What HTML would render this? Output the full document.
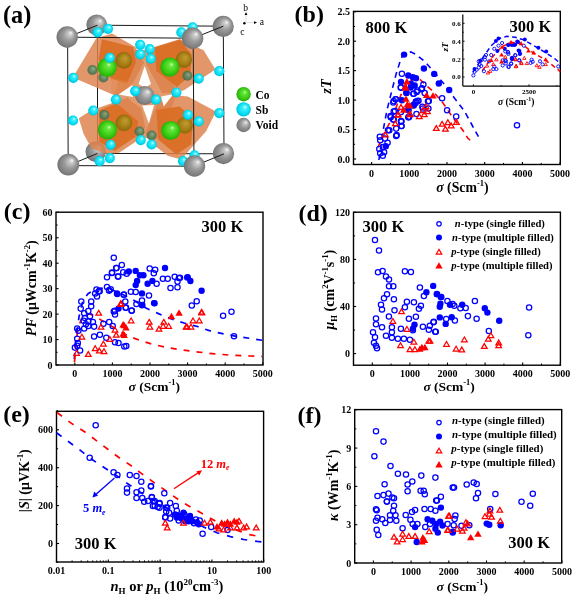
<!DOCTYPE html>
<html><head><meta charset="utf-8"><style>
html,body{margin:0;padding:0;background:#fff;}
svg{display:block;will-change:transform;font-family:"Liberation Serif",serif;}
</style></head><body>
<svg width="575" height="602" viewBox="0 0 575 602">

<defs>
<radialGradient id="gGray" cx="0.5" cy="0.5" r="0.55" fx="0.68" fy="0.3">
 <stop offset="0" stop-color="#ffffff"/><stop offset="0.14" stop-color="#cfcfcf"/>
 <stop offset="0.5" stop-color="#9a9a9a"/><stop offset="0.85" stop-color="#7c7c7c"/><stop offset="1" stop-color="#6a6a6a"/>
</radialGradient>
<radialGradient id="gCyan" cx="0.5" cy="0.5" r="0.55" fx="0.62" fy="0.32">
 <stop offset="0" stop-color="#e8ffff"/><stop offset="0.25" stop-color="#40f0ff"/>
 <stop offset="0.75" stop-color="#00d8ee"/><stop offset="1" stop-color="#00b0c8"/>
</radialGradient>
<radialGradient id="gGreen" cx="0.5" cy="0.5" r="0.55" fx="0.6" fy="0.35">
 <stop offset="0" stop-color="#d8ffc0"/><stop offset="0.18" stop-color="#68e840"/>
 <stop offset="0.65" stop-color="#38cc12"/><stop offset="1" stop-color="#24a008"/>
</radialGradient>
<radialGradient id="gOlive" cx="0.5" cy="0.5" r="0.55" fx="0.6" fy="0.35">
 <stop offset="0" stop-color="#c0a038"/><stop offset="0.6" stop-color="#a08010"/><stop offset="1" stop-color="#806008"/>
</radialGradient>
<radialGradient id="gDark" cx="0.5" cy="0.5" r="0.55" fx="0.6" fy="0.35">
 <stop offset="0" stop-color="#80b090"/><stop offset="0.6" stop-color="#4a7e5a"/><stop offset="1" stop-color="#386448"/>
</radialGradient>
</defs>

<rect width="575" height="602" fill="#fff"/>
<text x="3.0" y="23.3" font-size="24.3" text-anchor="start" font-weight="bold" font-style="normal" fill="#000" >(a)</text>
<line x1="97.50" y1="25.20" x2="223.30" y2="26.20" stroke="#1a1a1a" stroke-width="1.0" />
<line x1="97.50" y1="25.20" x2="97.50" y2="153.40" stroke="#1a1a1a" stroke-width="1.0" />
<line x1="97.50" y1="153.40" x2="224.00" y2="153.80" stroke="#1a1a1a" stroke-width="1.0" />
<line x1="223.30" y1="26.20" x2="224.00" y2="153.80" stroke="#1a1a1a" stroke-width="1.0" />
<circle cx="96.7" cy="24.8" r="10.4" fill="url(#gGray)"/>
<circle cx="223.2" cy="26.4" r="10.6" fill="url(#gGray)"/>
<circle cx="223.5" cy="153.6" r="10.6" fill="url(#gGray)"/>
<circle cx="95.7" cy="151.8" r="10.2" fill="url(#gGray)"/>
<circle cx="180" cy="46" r="5" fill="url(#gDark)"/>
<polygon points="128,50 160,50 177,93 160,138 130,138 114,96" fill="#e29c70" fill-opacity="1.0" stroke="none" stroke-width="0.6"/>
<polygon points="72.8,77.4 96.3,38.3 112,33.6 135.4,46.9 144,62.6 133.9,81.3 124.5,90.7 116.7,96.2 96.3,87.6" fill="#dc824c" fill-opacity="0.84" stroke="none" stroke-width="0.6"/>
<polygon points="102,39.3 133,47 136,62 127,83.5 111.3,78.8 98.5,59" fill="#da6e24" fill-opacity="0.93" stroke="none" stroke-width="0.6"/>
<polygon points="111.7,78.1 128.4,80.9 135.4,83.7 122.9,93.4 111.7,93.4" fill="#e5884a" fill-opacity="0.35" stroke="none" stroke-width="0.6"/>
<polygon points="148.9,48.7 179.9,39.1 190.3,44.3 203.6,50.2 215.4,69.4 202.1,78.3 184.3,90.1 175.5,93 162.2,93 145.9,63.5" fill="#dc824c" fill-opacity="0.84" stroke="none" stroke-width="0.6"/>
<polygon points="154.8,47.2 179.9,39.8 191.7,54.6 190.3,75.3 177,87.1 156.3,70.9" fill="#da6e24" fill-opacity="0.93" stroke="none" stroke-width="0.6"/>
<polygon points="78.8,118.2 91.3,110.3 111.6,103.3 127.3,97.8 141.4,108.8 145.3,127.6 138.3,140.1 119.5,152.6 107,154.2 91.3,147.9 83.5,133.8" fill="#dc824c" fill-opacity="0.84" stroke="none" stroke-width="0.6"/>
<polygon points="99.1,110.3 116.3,103.3 138.3,121.3 135.1,137 114.8,151 99.1,141.7" fill="#da6e24" fill-opacity="0.93" stroke="none" stroke-width="0.6"/>
<polygon points="145,133 156.5,104.9 173,95 187.9,96.6 216,111.5 206.1,131.3 191.2,147.9 181.3,159.4 168.1,156.1 153.2,144.5" fill="#dc824c" fill-opacity="0.84" stroke="none" stroke-width="0.6"/>
<polygon points="156.5,109.8 179.7,106.5 192.9,118.1 191.2,144.5 176.4,154.5 158.2,139.6" fill="#da6e24" fill-opacity="0.93" stroke="none" stroke-width="0.6"/>
<polygon points="144.7,66 138.6,84 144.7,88 151,84" fill="#ffffff" fill-opacity="1.0" stroke="none" stroke-width="0.6"/>
<polygon points="118.5,94.5 132.5,85 133,97" fill="#ffffff" fill-opacity="1.0" stroke="none" stroke-width="0.6"/>
<polygon points="161.2,96.5 173.5,94 163.7,106.5" fill="#ffffff" fill-opacity="1.0" stroke="none" stroke-width="0.6"/>
<polygon points="142.2,105.5 148.9,123.5 154,105" fill="#ffffff" fill-opacity="1.0" stroke="none" stroke-width="0.6"/>
<circle cx="123.7" cy="60.4" r="8.3" fill="url(#gOlive)" fill-opacity="0.9"/>
<circle cx="183.8" cy="59.6" r="8.3" fill="url(#gOlive)" fill-opacity="0.9"/>
<circle cx="123.9" cy="122.9" r="8.3" fill="url(#gOlive)" fill-opacity="0.9"/>
<circle cx="184.6" cy="125.5" r="8.3" fill="url(#gOlive)" fill-opacity="0.9"/>
<circle cx="92.4" cy="70" r="5" fill="url(#gDark)" fill-opacity="0.85"/>
<circle cx="104.3" cy="115" r="5" fill="url(#gDark)" fill-opacity="0.85"/>
<circle cx="139.5" cy="131.5" r="5" fill="url(#gDark)" fill-opacity="0.85"/>
<circle cx="151.6" cy="135.5" r="5" fill="url(#gDark)" fill-opacity="0.85"/>
<circle cx="187.4" cy="75.7" r="5" fill="url(#gDark)" fill-opacity="0.85"/>
<circle cx="103.4" cy="77.4" r="5" fill="url(#gDark)" fill-opacity="0.85"/>
<line x1="67.60" y1="37.20" x2="193.20" y2="38.20" stroke="#1a1a1a" stroke-width="1.0" />
<line x1="67.60" y1="37.20" x2="68.20" y2="165.60" stroke="#1a1a1a" stroke-width="1.0" />
<line x1="68.20" y1="165.60" x2="194.00" y2="166.20" stroke="#1a1a1a" stroke-width="1.0" />
<line x1="193.20" y1="38.20" x2="194.00" y2="166.20" stroke="#1a1a1a" stroke-width="1.0" />
<line x1="67.60" y1="37.20" x2="97.50" y2="25.20" stroke="#1a1a1a" stroke-width="1.0" />
<line x1="193.20" y1="38.20" x2="223.30" y2="26.20" stroke="#1a1a1a" stroke-width="1.0" />
<line x1="68.20" y1="165.60" x2="97.50" y2="153.40" stroke="#1a1a1a" stroke-width="1.0" />
<line x1="194.00" y1="166.20" x2="224.00" y2="153.80" stroke="#1a1a1a" stroke-width="1.0" />
<circle cx="107.2" cy="67.4" r="9.6" fill="url(#gGreen)"/>
<circle cx="169.8" cy="67.1" r="9.6" fill="url(#gGreen)"/>
<circle cx="107.4" cy="129.9" r="9.6" fill="url(#gGreen)"/>
<circle cx="170.6" cy="130.5" r="9.6" fill="url(#gGreen)"/>
<circle cx="144.6" cy="95.5" r="9.6" fill="url(#gGray)"/>
<circle cx="97.6" cy="32.3" r="5.1" fill="url(#gCyan)"/>
<circle cx="108" cy="28.8" r="5.1" fill="url(#gCyan)"/>
<circle cx="73.3" cy="77.8" r="5.1" fill="url(#gCyan)"/>
<circle cx="109.8" cy="57.8" r="5.1" fill="url(#gCyan)"/>
<circle cx="140.2" cy="44.8" r="5.1" fill="url(#gCyan)"/>
<circle cx="149.8" cy="49.1" r="5.1" fill="url(#gCyan)"/>
<circle cx="140.2" cy="54.3" r="5.1" fill="url(#gCyan)"/>
<circle cx="150.7" cy="58.7" r="5.1" fill="url(#gCyan)"/>
<circle cx="115.9" cy="99.6" r="5.1" fill="url(#gCyan)"/>
<circle cx="135.2" cy="91.1" r="5.1" fill="url(#gCyan)"/>
<circle cx="181.3" cy="32.4" r="5.1" fill="url(#gCyan)"/>
<circle cx="192.6" cy="27.4" r="5.1" fill="url(#gCyan)"/>
<circle cx="219.3" cy="71.2" r="5.1" fill="url(#gCyan)"/>
<circle cx="198.7" cy="78.6" r="5.1" fill="url(#gCyan)"/>
<circle cx="176.4" cy="92.5" r="5.1" fill="url(#gCyan)"/>
<circle cx="156" cy="99.7" r="5.1" fill="url(#gCyan)"/>
<circle cx="93.3" cy="110.5" r="5.1" fill="url(#gCyan)"/>
<circle cx="73" cy="120.5" r="5.1" fill="url(#gCyan)"/>
<circle cx="110.6" cy="144.8" r="5.1" fill="url(#gCyan)"/>
<circle cx="99.6" cy="161.2" r="5.1" fill="url(#gCyan)"/>
<circle cx="109.8" cy="158.1" r="5.1" fill="url(#gCyan)"/>
<circle cx="140.8" cy="140.1" r="5.1" fill="url(#gCyan)"/>
<circle cx="187.9" cy="114.8" r="5.1" fill="url(#gCyan)"/>
<circle cx="198.7" cy="121.4" r="5.1" fill="url(#gCyan)"/>
<circle cx="219.3" cy="113.1" r="5.1" fill="url(#gCyan)"/>
<circle cx="151.6" cy="144.5" r="5.1" fill="url(#gCyan)"/>
<circle cx="183" cy="161.1" r="5.1" fill="url(#gCyan)"/>
<circle cx="194.5" cy="155.3" r="5.1" fill="url(#gCyan)"/>
<circle cx="67.2" cy="37" r="10.7" fill="url(#gGray)"/>
<circle cx="192.6" cy="38.2" r="10.7" fill="url(#gGray)"/>
<circle cx="68.3" cy="164.6" r="10.9" fill="url(#gGray)"/>
<circle cx="194.5" cy="166" r="10.7" fill="url(#gGray)"/>
<circle cx="243.6" cy="94.2" r="7.2" fill="url(#gGreen)"/>
<circle cx="243.6" cy="109.4" r="7.2" fill="url(#gCyan)"/>
<circle cx="243.6" cy="125" r="7.2" fill="url(#gGray)"/>
<text x="255.5" y="98.5" font-size="11.5" text-anchor="start" font-weight="bold" font-style="normal" fill="#000" >Co</text>
<text x="255.5" y="113.8" font-size="11.5" text-anchor="start" font-weight="bold" font-style="normal" fill="#000" >Sb</text>
<text x="255.5" y="129.4" font-size="11.5" text-anchor="start" font-weight="bold" font-style="normal" fill="#000" >Void</text>
<line x1="246.00" y1="21.90" x2="246.00" y2="14.50" stroke="#c8c8c8" stroke-width="0.6" />
<line x1="246.30" y1="22.60" x2="254.30" y2="22.60" stroke="#c8c8c8" stroke-width="0.6" />
<polygon points="246,12 244.6,15 247.4,15" fill="#000"/>
<polygon points="257,22.6 254,21.2 254,24" fill="#000"/>
<circle cx="244.4" cy="23.3" r="1.2" fill="#000"/>
<text x="243.3" y="10.8" font-size="9.5" text-anchor="start" font-weight="normal" font-style="normal" fill="#000" >b</text>
<text x="259.8" y="25.2" font-size="9.5" text-anchor="start" font-weight="normal" font-style="normal" fill="#000" >a</text>
<text x="240.3" y="34.8" font-size="9.5" text-anchor="start" font-weight="normal" font-style="normal" fill="#000" >c</text>
<rect x="353.5" y="11.4" width="206.79999999999995" height="153.1" fill="none" stroke="#000" stroke-width="1.4"/>
<line x1="371.60" y1="164.50" x2="371.60" y2="161.90" stroke="#000" stroke-width="1.1" />
<line x1="409.30" y1="164.50" x2="409.30" y2="161.90" stroke="#000" stroke-width="1.1" />
<line x1="447.00" y1="164.50" x2="447.00" y2="161.90" stroke="#000" stroke-width="1.1" />
<line x1="484.70" y1="164.50" x2="484.70" y2="161.90" stroke="#000" stroke-width="1.1" />
<line x1="522.40" y1="164.50" x2="522.40" y2="161.90" stroke="#000" stroke-width="1.1" />
<line x1="560.10" y1="164.50" x2="560.10" y2="161.90" stroke="#000" stroke-width="1.1" />
<line x1="390.45" y1="164.50" x2="390.45" y2="162.90" stroke="#000" stroke-width="1.0" />
<line x1="428.15" y1="164.50" x2="428.15" y2="162.90" stroke="#000" stroke-width="1.0" />
<line x1="465.85" y1="164.50" x2="465.85" y2="162.90" stroke="#000" stroke-width="1.0" />
<line x1="503.55" y1="164.50" x2="503.55" y2="162.90" stroke="#000" stroke-width="1.0" />
<line x1="541.25" y1="164.50" x2="541.25" y2="162.90" stroke="#000" stroke-width="1.0" />
<line x1="353.50" y1="159.00" x2="356.10" y2="159.00" stroke="#000" stroke-width="1.1" />
<line x1="353.50" y1="129.55" x2="356.10" y2="129.55" stroke="#000" stroke-width="1.1" />
<line x1="353.50" y1="100.10" x2="356.10" y2="100.10" stroke="#000" stroke-width="1.1" />
<line x1="353.50" y1="70.65" x2="356.10" y2="70.65" stroke="#000" stroke-width="1.1" />
<line x1="353.50" y1="41.20" x2="356.10" y2="41.20" stroke="#000" stroke-width="1.1" />
<line x1="353.50" y1="11.75" x2="356.10" y2="11.75" stroke="#000" stroke-width="1.1" />
<line x1="353.50" y1="144.28" x2="355.10" y2="144.28" stroke="#000" stroke-width="1.0" />
<line x1="353.50" y1="114.83" x2="355.10" y2="114.83" stroke="#000" stroke-width="1.0" />
<line x1="353.50" y1="85.38" x2="355.10" y2="85.38" stroke="#000" stroke-width="1.0" />
<line x1="353.50" y1="55.92" x2="355.10" y2="55.92" stroke="#000" stroke-width="1.0" />
<line x1="353.50" y1="26.47" x2="355.10" y2="26.47" stroke="#000" stroke-width="1.0" />
<text x="371.6" y="176.5" font-size="10" text-anchor="middle" font-weight="bold" font-style="normal" fill="#000" >0</text>
<text x="409.3" y="176.5" font-size="10" text-anchor="middle" font-weight="bold" font-style="normal" fill="#000" >1000</text>
<text x="447.0" y="176.5" font-size="10" text-anchor="middle" font-weight="bold" font-style="normal" fill="#000" >2000</text>
<text x="484.7" y="176.5" font-size="10" text-anchor="middle" font-weight="bold" font-style="normal" fill="#000" >3000</text>
<text x="522.4" y="176.5" font-size="10" text-anchor="middle" font-weight="bold" font-style="normal" fill="#000" >4000</text>
<text x="560.1" y="176.5" font-size="10" text-anchor="middle" font-weight="bold" font-style="normal" fill="#000" >5000</text>
<text x="350.0" y="162.5" font-size="10" text-anchor="end" font-weight="bold" font-style="normal" fill="#000" >0.0</text>
<text x="350.0" y="133.1" font-size="10" text-anchor="end" font-weight="bold" font-style="normal" fill="#000" >0.5</text>
<text x="350.0" y="103.6" font-size="10" text-anchor="end" font-weight="bold" font-style="normal" fill="#000" >1.0</text>
<text x="350.0" y="74.2" font-size="10" text-anchor="end" font-weight="bold" font-style="normal" fill="#000" >1.5</text>
<text x="350.0" y="44.7" font-size="10" text-anchor="end" font-weight="bold" font-style="normal" fill="#000" >2.0</text>
<text x="350.0" y="15.2" font-size="10" text-anchor="end" font-weight="bold" font-style="normal" fill="#000" >2.5</text>
<text x="294.6" y="21.8" font-size="24" text-anchor="start" font-weight="bold" font-style="normal" fill="#000" >(b)</text>
<text x="0" y="0" font-size="14.5" font-weight="bold" font-style="italic" text-anchor="middle" transform="translate(330.6,86.5) rotate(-90)">zT</text>
<text x="436.2" y="192.0" font-size="13.8" text-anchor="start" font-weight="bold" font-style="normal" fill="#000" ><tspan font-style="italic">σ</tspan> (Scm<tspan dy="-6" font-size="62%">-1</tspan><tspan dy="6">)</tspan></text>
<text x="365.5" y="33.0" font-size="16.5" text-anchor="start" font-weight="bold" font-style="normal" fill="#000" >800 K</text>
<path d="M378.9,160.0 L383.2,130.0 L387.0,110.0 L390.5,96.0 L396.0,74.4 L401.3,57.7 L405.0,53.5 L410.7,51.9 L416.0,54.5 L424.8,61.5 L434.0,72.0 L444.6,84.7 L454.0,97.5 L464.4,111.1 L472.0,125.0 L480.4,140.3" fill="none" stroke="#0000ff" stroke-width="1.6" stroke-dasharray="5.8,4.7"/>
<path d="M378.0,147.1 L385.0,131.6 L391.0,120.4 L394.5,111.7 L401.0,94.7 L407.0,84.0 L413.8,79.1 L420.0,79.5 L428.4,87.4 L433.0,91.3 L442.9,102.9 L452.9,117.7 L462.8,130.3 L467.7,138.0 L471.6,141.6" fill="none" stroke="#ff0000" stroke-width="1.6" stroke-dasharray="5.8,4.7"/>
<circle cx="379.8" cy="136.8" r="2.65" fill="none" stroke="#0000ff" stroke-width="1.25"/>
<circle cx="380.2" cy="140.2" r="2.65" fill="none" stroke="#0000ff" stroke-width="1.25"/>
<circle cx="385.0" cy="138.5" r="2.65" fill="none" stroke="#0000ff" stroke-width="1.25"/>
<circle cx="387.6" cy="142.8" r="2.65" fill="none" stroke="#0000ff" stroke-width="1.25"/>
<circle cx="379.3" cy="148.9" r="2.65" fill="none" stroke="#0000ff" stroke-width="1.25"/>
<circle cx="383.2" cy="147.1" r="2.65" fill="none" stroke="#0000ff" stroke-width="1.25"/>
<circle cx="380.2" cy="153.2" r="2.65" fill="none" stroke="#0000ff" stroke-width="1.25"/>
<circle cx="384.1" cy="152.3" r="2.65" fill="none" stroke="#0000ff" stroke-width="1.25"/>
<circle cx="382.8" cy="155.8" r="2.65" fill="none" stroke="#0000ff" stroke-width="1.25"/>
<circle cx="396.2" cy="135.9" r="2.65" fill="none" stroke="#0000ff" stroke-width="1.25"/>
<circle cx="388.0" cy="130.3" r="2.65" fill="none" stroke="#0000ff" stroke-width="1.25"/>
<circle cx="396.2" cy="128.6" r="2.65" fill="none" stroke="#0000ff" stroke-width="1.25"/>
<circle cx="401.4" cy="126.0" r="2.65" fill="none" stroke="#0000ff" stroke-width="1.25"/>
<circle cx="393.2" cy="119.5" r="2.65" fill="none" stroke="#0000ff" stroke-width="1.25"/>
<circle cx="401.4" cy="121.2" r="2.65" fill="none" stroke="#0000ff" stroke-width="1.25"/>
<circle cx="390.6" cy="116.0" r="2.65" fill="none" stroke="#0000ff" stroke-width="1.25"/>
<circle cx="408.3" cy="117.3" r="2.65" fill="none" stroke="#0000ff" stroke-width="1.25"/>
<circle cx="401.9" cy="73.7" r="2.65" fill="none" stroke="#0000ff" stroke-width="1.25"/>
<circle cx="401.0" cy="87.4" r="2.65" fill="none" stroke="#0000ff" stroke-width="1.25"/>
<circle cx="413.8" cy="93.8" r="2.65" fill="none" stroke="#0000ff" stroke-width="1.25"/>
<circle cx="417.4" cy="90.6" r="2.65" fill="none" stroke="#0000ff" stroke-width="1.25"/>
<circle cx="422.0" cy="88.3" r="2.65" fill="none" stroke="#0000ff" stroke-width="1.25"/>
<circle cx="423.4" cy="84.6" r="2.65" fill="none" stroke="#0000ff" stroke-width="1.25"/>
<circle cx="424.7" cy="92.9" r="2.65" fill="none" stroke="#0000ff" stroke-width="1.25"/>
<circle cx="428.8" cy="101.1" r="2.65" fill="none" stroke="#0000ff" stroke-width="1.25"/>
<circle cx="417.4" cy="101.1" r="2.65" fill="none" stroke="#0000ff" stroke-width="1.25"/>
<circle cx="415.6" cy="102.9" r="2.65" fill="none" stroke="#0000ff" stroke-width="1.25"/>
<circle cx="393.7" cy="101.1" r="2.65" fill="none" stroke="#0000ff" stroke-width="1.25"/>
<circle cx="395.5" cy="99.3" r="2.65" fill="none" stroke="#0000ff" stroke-width="1.25"/>
<circle cx="393.7" cy="111.6" r="2.65" fill="none" stroke="#0000ff" stroke-width="1.25"/>
<circle cx="401.0" cy="112.0" r="2.65" fill="none" stroke="#0000ff" stroke-width="1.25"/>
<circle cx="409.2" cy="116.6" r="2.65" fill="none" stroke="#0000ff" stroke-width="1.25"/>
<circle cx="416.5" cy="113.9" r="2.65" fill="none" stroke="#0000ff" stroke-width="1.25"/>
<circle cx="422.9" cy="108.4" r="2.65" fill="none" stroke="#0000ff" stroke-width="1.25"/>
<circle cx="428.4" cy="108.4" r="2.65" fill="none" stroke="#0000ff" stroke-width="1.25"/>
<circle cx="393.7" cy="119.4" r="2.65" fill="none" stroke="#0000ff" stroke-width="1.25"/>
<circle cx="401.0" cy="121.2" r="2.65" fill="none" stroke="#0000ff" stroke-width="1.25"/>
<circle cx="442.1" cy="98.2" r="2.65" fill="none" stroke="#0000ff" stroke-width="1.25"/>
<circle cx="447.1" cy="110.3" r="2.65" fill="none" stroke="#0000ff" stroke-width="1.25"/>
<circle cx="456.2" cy="116.4" r="2.65" fill="none" stroke="#0000ff" stroke-width="1.25"/>
<circle cx="428.0" cy="101.2" r="2.65" fill="none" stroke="#0000ff" stroke-width="1.25"/>
<circle cx="396.7" cy="135.0" r="2.65" fill="none" stroke="#0000ff" stroke-width="1.25"/>
<circle cx="517.0" cy="125.2" r="2.65" fill="none" stroke="#0000ff" stroke-width="1.25"/>
<circle cx="400.7" cy="87.6" r="2.65" fill="none" stroke="#0000ff" stroke-width="1.25"/>
<circle cx="413.3" cy="93.7" r="2.65" fill="none" stroke="#0000ff" stroke-width="1.25"/>
<circle cx="416.7" cy="92.0" r="2.65" fill="none" stroke="#0000ff" stroke-width="1.25"/>
<circle cx="421.5" cy="89.3" r="2.65" fill="none" stroke="#0000ff" stroke-width="1.25"/>
<circle cx="393.3" cy="102.4" r="2.65" fill="none" stroke="#0000ff" stroke-width="1.25"/>
<circle cx="395.9" cy="99.3" r="2.65" fill="none" stroke="#0000ff" stroke-width="1.25"/>
<circle cx="415.9" cy="101.5" r="2.65" fill="none" stroke="#0000ff" stroke-width="1.25"/>
<circle cx="418.5" cy="100.7" r="2.65" fill="none" stroke="#0000ff" stroke-width="1.25"/>
<circle cx="395.0" cy="111.1" r="2.65" fill="none" stroke="#0000ff" stroke-width="1.25"/>
<circle cx="390.7" cy="117.2" r="2.65" fill="none" stroke="#0000ff" stroke-width="1.25"/>
<circle cx="401.1" cy="121.5" r="2.65" fill="none" stroke="#0000ff" stroke-width="1.25"/>
<circle cx="401.5" cy="125.9" r="2.65" fill="none" stroke="#0000ff" stroke-width="1.25"/>
<circle cx="389.3" cy="130.2" r="2.65" fill="none" stroke="#0000ff" stroke-width="1.25"/>
<circle cx="408.9" cy="117.2" r="2.65" fill="none" stroke="#0000ff" stroke-width="1.25"/>
<circle cx="422.4" cy="106.7" r="2.65" fill="none" stroke="#0000ff" stroke-width="1.25"/>
<circle cx="385.8" cy="146.3" r="3.2" fill="#0000ff"/>
<circle cx="408.3" cy="75.5" r="3.2" fill="#0000ff"/>
<circle cx="412.9" cy="77.3" r="3.2" fill="#0000ff"/>
<circle cx="416.0" cy="78.2" r="3.2" fill="#0000ff"/>
<circle cx="401.0" cy="81.9" r="3.2" fill="#0000ff"/>
<circle cx="411.0" cy="83.7" r="3.2" fill="#0000ff"/>
<circle cx="414.7" cy="85.5" r="3.2" fill="#0000ff"/>
<circle cx="406.5" cy="92.9" r="3.2" fill="#0000ff"/>
<circle cx="401.9" cy="100.2" r="3.2" fill="#0000ff"/>
<circle cx="413.8" cy="105.6" r="3.2" fill="#0000ff"/>
<circle cx="408.3" cy="109.3" r="3.2" fill="#0000ff"/>
<circle cx="404.1" cy="54.6" r="3.2" fill="#0000ff"/>
<circle cx="423.9" cy="68.5" r="3.2" fill="#0000ff"/>
<circle cx="434.2" cy="73.9" r="3.2" fill="#0000ff"/>
<circle cx="438.8" cy="83.5" r="3.2" fill="#0000ff"/>
<circle cx="449.2" cy="90.0" r="3.2" fill="#0000ff"/>
<circle cx="406.3" cy="92.8" r="3.2" fill="#0000ff"/>
<circle cx="410.7" cy="87.6" r="3.2" fill="#0000ff"/>
<circle cx="413.3" cy="105.0" r="3.2" fill="#0000ff"/>
<circle cx="408.5" cy="110.2" r="3.2" fill="#0000ff"/>
<polygon points="385.4,132.1 388.2,136.9 382.6,136.9" fill="none" stroke="#ff0000" stroke-width="1.25" stroke-linejoin="miter"/>
<polygon points="395.3,120.9 398.1,125.7 392.5,125.7" fill="none" stroke="#ff0000" stroke-width="1.25" stroke-linejoin="miter"/>
<polygon points="397.9,112.3 400.7,117.1 395.1,117.1" fill="none" stroke="#ff0000" stroke-width="1.25" stroke-linejoin="miter"/>
<polygon points="410.0,111.0 412.8,115.8 407.2,115.8" fill="none" stroke="#ff0000" stroke-width="1.25" stroke-linejoin="miter"/>
<polygon points="401.0,104.6 403.8,109.4 398.2,109.4" fill="none" stroke="#ff0000" stroke-width="1.25" stroke-linejoin="miter"/>
<polygon points="398.2,111.9 401.0,116.7 395.4,116.7" fill="none" stroke="#ff0000" stroke-width="1.25" stroke-linejoin="miter"/>
<polygon points="410.1,111.9 412.9,116.7 407.3,116.7" fill="none" stroke="#ff0000" stroke-width="1.25" stroke-linejoin="miter"/>
<polygon points="419.3,113.7 422.1,118.5 416.5,118.5" fill="none" stroke="#ff0000" stroke-width="1.25" stroke-linejoin="miter"/>
<polygon points="422.9,107.8 425.7,112.6 420.1,112.6" fill="none" stroke="#ff0000" stroke-width="1.25" stroke-linejoin="miter"/>
<polygon points="426.1,103.7 428.9,108.5 423.3,108.5" fill="none" stroke="#ff0000" stroke-width="1.25" stroke-linejoin="miter"/>
<polygon points="427.5,108.7 430.3,113.5 424.7,113.5" fill="none" stroke="#ff0000" stroke-width="1.25" stroke-linejoin="miter"/>
<polygon points="424.3,111.9 427.1,116.7 421.5,116.7" fill="none" stroke="#ff0000" stroke-width="1.25" stroke-linejoin="miter"/>
<polygon points="436.3,125.6 439.1,130.4 433.5,130.4" fill="none" stroke="#ff0000" stroke-width="1.25" stroke-linejoin="miter"/>
<polygon points="442.1,121.4 444.9,126.2 439.3,126.2" fill="none" stroke="#ff0000" stroke-width="1.25" stroke-linejoin="miter"/>
<polygon points="445.4,126.4 448.2,131.2 442.6,131.2" fill="none" stroke="#ff0000" stroke-width="1.25" stroke-linejoin="miter"/>
<polygon points="447.9,119.8 450.7,124.6 445.1,124.6" fill="none" stroke="#ff0000" stroke-width="1.25" stroke-linejoin="miter"/>
<polygon points="451.2,123.1 454.0,127.9 448.4,127.9" fill="none" stroke="#ff0000" stroke-width="1.25" stroke-linejoin="miter"/>
<polygon points="456.5,119.5 459.3,124.3 453.7,124.3" fill="none" stroke="#ff0000" stroke-width="1.25" stroke-linejoin="miter"/>
<polygon points="406.9,78.0 410.6,84.4 403.2,84.4" fill="#ff0000"/>
<polygon points="405.5,84.4 409.2,90.8 401.8,90.8" fill="#ff0000"/>
<polygon points="406.0,95.4 409.7,101.8 402.3,101.8" fill="#ff0000"/>
<polygon points="407.4,100.8 411.1,107.2 403.7,107.2" fill="#ff0000"/>
<polygon points="426.6,91.7 430.3,98.1 422.9,98.1" fill="#ff0000"/>
<polygon points="433.0,92.2 436.7,98.6 429.3,98.6" fill="#ff0000"/>
<polygon points="403.7,106.3 407.4,112.7 400.0,112.7" fill="#ff0000"/>
<polygon points="409.8,102.0 413.5,108.4 406.1,108.4" fill="#ff0000"/>
<polygon points="405.4,82.8 409.1,89.2 401.7,89.2" fill="#ff0000"/>
<line x1="462.80" y1="14.40" x2="462.80" y2="86.10" stroke="#000" stroke-width="1.2" />
<line x1="462.80" y1="86.10" x2="560.30" y2="86.10" stroke="#000" stroke-width="1.2" />
<line x1="462.80" y1="77.00" x2="464.60" y2="77.00" stroke="#000" stroke-width="0.9" />
<line x1="462.80" y1="59.10" x2="464.60" y2="59.10" stroke="#000" stroke-width="0.9" />
<line x1="462.80" y1="41.20" x2="464.60" y2="41.20" stroke="#000" stroke-width="0.9" />
<line x1="462.80" y1="23.30" x2="464.60" y2="23.30" stroke="#000" stroke-width="0.9" />
<line x1="462.80" y1="68.05" x2="463.90" y2="68.05" stroke="#000" stroke-width="0.8" />
<line x1="462.80" y1="50.15" x2="463.90" y2="50.15" stroke="#000" stroke-width="0.8" />
<line x1="462.80" y1="32.25" x2="463.90" y2="32.25" stroke="#000" stroke-width="0.8" />
<line x1="473.40" y1="86.10" x2="473.40" y2="84.30" stroke="#000" stroke-width="0.9" />
<line x1="529.00" y1="86.10" x2="529.00" y2="84.30" stroke="#000" stroke-width="0.9" />
<line x1="501.20" y1="86.10" x2="501.20" y2="85.00" stroke="#000" stroke-width="0.8" />
<line x1="556.80" y1="86.10" x2="556.80" y2="85.00" stroke="#000" stroke-width="0.8" />
<text x="460.8" y="79.4" font-size="7" text-anchor="end" font-weight="bold" font-style="normal" fill="#000" >0.0</text>
<text x="460.8" y="61.5" font-size="7" text-anchor="end" font-weight="bold" font-style="normal" fill="#000" >0.2</text>
<text x="460.8" y="43.6" font-size="7" text-anchor="end" font-weight="bold" font-style="normal" fill="#000" >0.4</text>
<text x="460.8" y="25.7" font-size="7" text-anchor="end" font-weight="bold" font-style="normal" fill="#000" >0.6</text>
<text x="473.4" y="94.0" font-size="7" text-anchor="middle" font-weight="bold" font-style="normal" fill="#000" >0</text>
<text x="529.0" y="94.0" font-size="7" text-anchor="middle" font-weight="bold" font-style="normal" fill="#000" >2500</text>
<text x="0" y="0" font-size="9" font-weight="bold" font-style="italic" text-anchor="middle" transform="translate(447.6,47) rotate(-90)">zT</text>
<text x="498.0" y="104.8" font-size="9.6" text-anchor="start" font-weight="bold" font-style="normal" fill="#000" ><tspan font-style="italic">σ</tspan> (Scm<tspan dy="-4" font-size="62%">-1</tspan><tspan dy="4">)</tspan></text>
<text x="509.5" y="31.6" font-size="16.5" text-anchor="start" font-weight="bold" font-style="normal" fill="#000" >300 K</text>
<path d="M473.0,72.0 L478.7,63.4 L483.9,56.1 L491.2,45.7 L498.5,38.9 L506.8,36.3 L515.2,37.3 L523.8,39.9 L532.1,44.6 L539.4,48.8 L546.8,53.5 L554.1,58.2 L559.3,62.4" fill="none" stroke="#0000ff" stroke-width="1.5" stroke-dasharray="4.7,3.3"/>
<path d="M482.3,70.7 L489.1,61.3 L495.4,53.5 L501.6,47.2 L510.0,42.5 L517.5,42.5 L525.9,47.2 L534.2,53.5 L542.6,58.2 L549.9,63.4 L556.1,68.1 L560.3,71.8" fill="none" stroke="#ff0000" stroke-width="1.5" stroke-dasharray="4.7,3.3"/>
<circle cx="473.4" cy="75.4" r="1.6" fill="none" stroke="#0000ff" stroke-width="0.9"/>
<circle cx="474.5" cy="71.8" r="1.6" fill="none" stroke="#0000ff" stroke-width="0.9"/>
<circle cx="476.6" cy="69.7" r="1.6" fill="none" stroke="#0000ff" stroke-width="0.9"/>
<circle cx="478.7" cy="67.6" r="1.6" fill="none" stroke="#0000ff" stroke-width="0.9"/>
<circle cx="481.3" cy="66.0" r="1.6" fill="none" stroke="#0000ff" stroke-width="0.9"/>
<circle cx="479.7" cy="64.4" r="1.6" fill="none" stroke="#0000ff" stroke-width="0.9"/>
<circle cx="478.7" cy="61.3" r="1.6" fill="none" stroke="#0000ff" stroke-width="0.9"/>
<circle cx="481.3" cy="60.3" r="1.6" fill="none" stroke="#0000ff" stroke-width="0.9"/>
<circle cx="484.9" cy="59.7" r="1.6" fill="none" stroke="#0000ff" stroke-width="0.9"/>
<circle cx="484.9" cy="57.1" r="1.6" fill="none" stroke="#0000ff" stroke-width="0.9"/>
<circle cx="486.0" cy="55.0" r="1.6" fill="none" stroke="#0000ff" stroke-width="0.9"/>
<circle cx="491.2" cy="55.0" r="1.6" fill="none" stroke="#0000ff" stroke-width="0.9"/>
<circle cx="494.3" cy="48.8" r="1.6" fill="none" stroke="#0000ff" stroke-width="0.9"/>
<circle cx="498.5" cy="45.7" r="1.6" fill="none" stroke="#0000ff" stroke-width="0.9"/>
<circle cx="502.1" cy="43.0" r="1.6" fill="none" stroke="#0000ff" stroke-width="0.9"/>
<circle cx="505.3" cy="51.4" r="1.6" fill="none" stroke="#0000ff" stroke-width="0.9"/>
<circle cx="507.9" cy="51.9" r="1.6" fill="none" stroke="#0000ff" stroke-width="0.9"/>
<circle cx="508.4" cy="54.0" r="1.6" fill="none" stroke="#0000ff" stroke-width="0.9"/>
<circle cx="505.3" cy="60.3" r="1.6" fill="none" stroke="#0000ff" stroke-width="0.9"/>
<circle cx="505.8" cy="63.4" r="1.6" fill="none" stroke="#0000ff" stroke-width="0.9"/>
<circle cx="502.7" cy="65.5" r="1.6" fill="none" stroke="#0000ff" stroke-width="0.9"/>
<circle cx="508.4" cy="66.5" r="1.6" fill="none" stroke="#0000ff" stroke-width="0.9"/>
<circle cx="511.0" cy="63.4" r="1.6" fill="none" stroke="#0000ff" stroke-width="0.9"/>
<circle cx="515.2" cy="55.0" r="1.6" fill="none" stroke="#0000ff" stroke-width="0.9"/>
<circle cx="519.4" cy="60.3" r="1.6" fill="none" stroke="#0000ff" stroke-width="0.9"/>
<circle cx="494.3" cy="66.5" r="1.6" fill="none" stroke="#0000ff" stroke-width="0.9"/>
<circle cx="496.4" cy="69.1" r="1.6" fill="none" stroke="#0000ff" stroke-width="0.9"/>
<circle cx="493.3" cy="69.1" r="1.6" fill="none" stroke="#0000ff" stroke-width="0.9"/>
<circle cx="483.9" cy="71.2" r="1.6" fill="none" stroke="#0000ff" stroke-width="0.9"/>
<circle cx="502.7" cy="60.3" r="1.6" fill="none" stroke="#0000ff" stroke-width="0.9"/>
<circle cx="489.1" cy="61.3" r="1.6" fill="none" stroke="#0000ff" stroke-width="0.9"/>
<circle cx="508.1" cy="52.4" r="1.6" fill="none" stroke="#0000ff" stroke-width="0.9"/>
<circle cx="520.1" cy="53.5" r="1.6" fill="none" stroke="#0000ff" stroke-width="0.9"/>
<circle cx="515.4" cy="55.6" r="1.6" fill="none" stroke="#0000ff" stroke-width="0.9"/>
<circle cx="523.8" cy="45.7" r="1.6" fill="none" stroke="#0000ff" stroke-width="0.9"/>
<circle cx="519.1" cy="60.3" r="1.6" fill="none" stroke="#0000ff" stroke-width="0.9"/>
<circle cx="531.6" cy="59.7" r="1.6" fill="none" stroke="#0000ff" stroke-width="0.9"/>
<circle cx="532.7" cy="61.8" r="1.6" fill="none" stroke="#0000ff" stroke-width="0.9"/>
<circle cx="530.6" cy="62.9" r="1.6" fill="none" stroke="#0000ff" stroke-width="0.9"/>
<circle cx="540.0" cy="61.3" r="1.6" fill="none" stroke="#0000ff" stroke-width="0.9"/>
<circle cx="542.6" cy="64.4" r="1.6" fill="none" stroke="#0000ff" stroke-width="0.9"/>
<circle cx="558.2" cy="66.5" r="1.6" fill="none" stroke="#0000ff" stroke-width="0.9"/>
<circle cx="511.3" cy="63.9" r="1.6" fill="none" stroke="#0000ff" stroke-width="0.9"/>
<circle cx="508.7" cy="67.1" r="1.6" fill="none" stroke="#0000ff" stroke-width="0.9"/>
<circle cx="506.0" cy="61.3" r="1.6" fill="none" stroke="#0000ff" stroke-width="0.9"/>
<circle cx="498.5" cy="38.4" r="2.0" fill="#0000ff"/>
<circle cx="495.9" cy="41.0" r="2.0" fill="#0000ff"/>
<circle cx="508.9" cy="44.6" r="2.0" fill="#0000ff"/>
<circle cx="512.1" cy="45.1" r="2.0" fill="#0000ff"/>
<circle cx="515.2" cy="44.6" r="2.0" fill="#0000ff"/>
<circle cx="517.3" cy="41.5" r="2.0" fill="#0000ff"/>
<circle cx="504.8" cy="48.8" r="2.0" fill="#0000ff"/>
<circle cx="497.4" cy="50.9" r="2.0" fill="#0000ff"/>
<circle cx="512.1" cy="57.7" r="2.0" fill="#0000ff"/>
<circle cx="512.1" cy="59.2" r="2.0" fill="#0000ff"/>
<circle cx="519.4" cy="50.9" r="2.0" fill="#0000ff"/>
<circle cx="519.9" cy="54.0" r="2.0" fill="#0000ff"/>
<circle cx="474.5" cy="69.1" r="2.0" fill="#0000ff"/>
<circle cx="480.2" cy="60.8" r="2.0" fill="#0000ff"/>
<circle cx="508.1" cy="45.1" r="2.0" fill="#0000ff"/>
<circle cx="511.3" cy="44.6" r="2.0" fill="#0000ff"/>
<circle cx="514.4" cy="45.1" r="2.0" fill="#0000ff"/>
<circle cx="518.0" cy="42.0" r="2.0" fill="#0000ff"/>
<circle cx="524.8" cy="39.4" r="2.0" fill="#0000ff"/>
<circle cx="538.4" cy="47.7" r="2.0" fill="#0000ff"/>
<circle cx="546.2" cy="51.4" r="2.0" fill="#0000ff"/>
<circle cx="518.6" cy="50.4" r="2.0" fill="#0000ff"/>
<circle cx="511.8" cy="58.2" r="2.0" fill="#0000ff"/>
<polygon points="516.2,64.2 517.9,67.2 514.5,67.2" fill="none" stroke="#ff0000" stroke-width="0.9" stroke-linejoin="miter"/>
<polygon points="515.7,57.9 517.4,60.9 514.0,60.9" fill="none" stroke="#ff0000" stroke-width="0.9" stroke-linejoin="miter"/>
<polygon points="496.4,57.9 498.1,60.9 494.7,60.9" fill="none" stroke="#ff0000" stroke-width="0.9" stroke-linejoin="miter"/>
<polygon points="490.1,69.4 491.8,72.4 488.4,72.4" fill="none" stroke="#ff0000" stroke-width="0.9" stroke-linejoin="miter"/>
<polygon points="488.0,71.0 489.7,74.0 486.3,74.0" fill="none" stroke="#ff0000" stroke-width="0.9" stroke-linejoin="miter"/>
<polygon points="493.3,62.6 495.0,65.6 491.6,65.6" fill="none" stroke="#ff0000" stroke-width="0.9" stroke-linejoin="miter"/>
<polygon points="505.3,55.3 507.0,58.3 503.6,58.3" fill="none" stroke="#ff0000" stroke-width="0.9" stroke-linejoin="miter"/>
<polygon points="521.5,61.6 523.2,64.6 519.8,64.6" fill="none" stroke="#ff0000" stroke-width="0.9" stroke-linejoin="miter"/>
<polygon points="487.0,64.2 488.7,67.2 485.3,67.2" fill="none" stroke="#ff0000" stroke-width="0.9" stroke-linejoin="miter"/>
<polygon points="516.0,64.7 517.7,67.7 514.3,67.7" fill="none" stroke="#ff0000" stroke-width="0.9" stroke-linejoin="miter"/>
<polygon points="521.2,61.1 522.9,64.1 519.5,64.1" fill="none" stroke="#ff0000" stroke-width="0.9" stroke-linejoin="miter"/>
<polygon points="524.3,56.4 526.0,59.4 522.6,59.4" fill="none" stroke="#ff0000" stroke-width="0.9" stroke-linejoin="miter"/>
<polygon points="526.9,61.6 528.6,64.6 525.2,64.6" fill="none" stroke="#ff0000" stroke-width="0.9" stroke-linejoin="miter"/>
<polygon points="536.8,63.7 538.5,66.7 535.1,66.7" fill="none" stroke="#ff0000" stroke-width="0.9" stroke-linejoin="miter"/>
<polygon points="539.4,65.3 541.1,68.3 537.7,68.3" fill="none" stroke="#ff0000" stroke-width="0.9" stroke-linejoin="miter"/>
<polygon points="545.7,62.6 547.4,65.6 544.0,65.6" fill="none" stroke="#ff0000" stroke-width="0.9" stroke-linejoin="miter"/>
<polygon points="515.4,57.4 517.1,60.4 513.7,60.4" fill="none" stroke="#ff0000" stroke-width="0.9" stroke-linejoin="miter"/>
<polygon points="502.1,44.7 504.5,48.8 499.7,48.8" fill="#ff0000"/>
<polygon points="501.6,52.5 504.0,56.6 499.2,56.6" fill="#ff0000"/>
<polygon points="501.6,59.3 504.0,63.4 499.2,63.4" fill="#ff0000"/>
<polygon points="511.0,40.0 513.4,44.1 508.6,44.1" fill="#ff0000"/>
<polygon points="521.0,41.1 523.4,45.2 518.6,45.2" fill="#ff0000"/>
<polygon points="491.2,57.8 493.6,61.9 488.8,61.9" fill="#ff0000"/>
<polygon points="528.5,48.4 530.9,52.5 526.1,52.5" fill="#ff0000"/>
<polygon points="533.7,50.5 536.1,54.6 531.3,54.6" fill="#ff0000"/>
<polygon points="545.7,57.2 548.1,61.3 543.3,61.3" fill="#ff0000"/>
<rect x="56" y="212.2" width="207" height="152.8" fill="none" stroke="#000" stroke-width="1.4"/>
<line x1="74.80" y1="365.00" x2="74.80" y2="362.40" stroke="#000" stroke-width="1.1" />
<line x1="112.40" y1="365.00" x2="112.40" y2="362.40" stroke="#000" stroke-width="1.1" />
<line x1="150.00" y1="365.00" x2="150.00" y2="362.40" stroke="#000" stroke-width="1.1" />
<line x1="187.60" y1="365.00" x2="187.60" y2="362.40" stroke="#000" stroke-width="1.1" />
<line x1="225.20" y1="365.00" x2="225.20" y2="362.40" stroke="#000" stroke-width="1.1" />
<line x1="262.80" y1="365.00" x2="262.80" y2="362.40" stroke="#000" stroke-width="1.1" />
<line x1="93.60" y1="365.00" x2="93.60" y2="363.40" stroke="#000" stroke-width="1.0" />
<line x1="131.20" y1="365.00" x2="131.20" y2="363.40" stroke="#000" stroke-width="1.0" />
<line x1="168.80" y1="365.00" x2="168.80" y2="363.40" stroke="#000" stroke-width="1.0" />
<line x1="206.40" y1="365.00" x2="206.40" y2="363.40" stroke="#000" stroke-width="1.0" />
<line x1="244.00" y1="365.00" x2="244.00" y2="363.40" stroke="#000" stroke-width="1.0" />
<line x1="56.00" y1="365.00" x2="58.60" y2="365.00" stroke="#000" stroke-width="1.1" />
<line x1="56.00" y1="339.55" x2="58.60" y2="339.55" stroke="#000" stroke-width="1.1" />
<line x1="56.00" y1="314.10" x2="58.60" y2="314.10" stroke="#000" stroke-width="1.1" />
<line x1="56.00" y1="288.65" x2="58.60" y2="288.65" stroke="#000" stroke-width="1.1" />
<line x1="56.00" y1="263.20" x2="58.60" y2="263.20" stroke="#000" stroke-width="1.1" />
<line x1="56.00" y1="237.75" x2="58.60" y2="237.75" stroke="#000" stroke-width="1.1" />
<line x1="56.00" y1="212.30" x2="58.60" y2="212.30" stroke="#000" stroke-width="1.1" />
<line x1="56.00" y1="352.27" x2="57.60" y2="352.27" stroke="#000" stroke-width="1.0" />
<line x1="56.00" y1="326.82" x2="57.60" y2="326.82" stroke="#000" stroke-width="1.0" />
<line x1="56.00" y1="301.38" x2="57.60" y2="301.38" stroke="#000" stroke-width="1.0" />
<line x1="56.00" y1="275.93" x2="57.60" y2="275.93" stroke="#000" stroke-width="1.0" />
<line x1="56.00" y1="250.48" x2="57.60" y2="250.48" stroke="#000" stroke-width="1.0" />
<line x1="56.00" y1="225.03" x2="57.60" y2="225.03" stroke="#000" stroke-width="1.0" />
<text x="74.8" y="377.0" font-size="10" text-anchor="middle" font-weight="bold" font-style="normal" fill="#000" >0</text>
<text x="112.4" y="377.0" font-size="10" text-anchor="middle" font-weight="bold" font-style="normal" fill="#000" >1000</text>
<text x="150.0" y="377.0" font-size="10" text-anchor="middle" font-weight="bold" font-style="normal" fill="#000" >2000</text>
<text x="187.6" y="377.0" font-size="10" text-anchor="middle" font-weight="bold" font-style="normal" fill="#000" >3000</text>
<text x="225.2" y="377.0" font-size="10" text-anchor="middle" font-weight="bold" font-style="normal" fill="#000" >4000</text>
<text x="262.8" y="377.0" font-size="10" text-anchor="middle" font-weight="bold" font-style="normal" fill="#000" >5000</text>
<text x="52.5" y="368.5" font-size="10" text-anchor="end" font-weight="bold" font-style="normal" fill="#000" >0</text>
<text x="52.5" y="343.1" font-size="10" text-anchor="end" font-weight="bold" font-style="normal" fill="#000" >10</text>
<text x="52.5" y="317.6" font-size="10" text-anchor="end" font-weight="bold" font-style="normal" fill="#000" >20</text>
<text x="52.5" y="292.1" font-size="10" text-anchor="end" font-weight="bold" font-style="normal" fill="#000" >30</text>
<text x="52.5" y="266.7" font-size="10" text-anchor="end" font-weight="bold" font-style="normal" fill="#000" >40</text>
<text x="52.5" y="241.2" font-size="10" text-anchor="end" font-weight="bold" font-style="normal" fill="#000" >50</text>
<text x="52.5" y="215.8" font-size="10" text-anchor="end" font-weight="bold" font-style="normal" fill="#000" >60</text>
<text x="3.8" y="218.5" font-size="24" text-anchor="start" font-weight="bold" font-style="normal" fill="#000" >(c)</text>
<text x="0" y="0" font-size="14" font-weight="bold" text-anchor="middle" transform="translate(36.2,288.2) rotate(-90)"><tspan font-style="italic">PF</tspan> (μWcm<tspan dy="-6" font-size="62%">-1</tspan><tspan dy="6">K</tspan><tspan dy="-6" font-size="62%">-2</tspan><tspan dy="6">)</tspan></text>
<text x="128.5" y="391.4" font-size="13.5" text-anchor="start" font-weight="bold" font-style="normal" fill="#000" ><tspan font-style="italic">σ</tspan> (Scm<tspan dy="-6" font-size="62%">-1</tspan><tspan dy="6">)</tspan></text>
<text x="201.5" y="231.8" font-size="16.5" text-anchor="start" font-weight="bold" font-style="normal" fill="#000" >300 K</text>
<path d="M74.3,359.0 L76.0,340.0 L79.0,316.7 L83.0,300.0 L88.1,293.7 L95.0,289.5 L100.0,288.1 L110.0,289.0 L120.0,293.0 L135.0,301.0 L146.4,308.3 L159.0,313.9 L172.9,319.5 L184.0,323.0 L197.4,326.5 L211.3,331.3 L223.5,333.9 L237.4,336.5 L249.6,338.3 L262.6,340.3" fill="none" stroke="#0000ff" stroke-width="1.7" stroke-dasharray="6,7"/>
<path d="M74.5,362.0 L76.0,345.0 L77.8,328.4 L82.4,316.7 L88.0,314.0 L92.9,315.0 L103.4,321.4 L112.0,326.5 L120.0,331.0 L127.0,335.5 L139.5,340.3 L153.4,344.5 L165.9,347.3 L178.4,349.4 L193.7,351.5 L214.8,353.9 L232.2,355.3 L249.6,356.0 L262.0,356.5" fill="none" stroke="#ff0000" stroke-width="1.7" stroke-dasharray="6,7"/>
<circle cx="97.0" cy="296.4" r="2.65" fill="none" stroke="#0000ff" stroke-width="1.25"/>
<circle cx="95.2" cy="293.5" r="2.65" fill="none" stroke="#0000ff" stroke-width="1.25"/>
<circle cx="98.7" cy="291.2" r="2.65" fill="none" stroke="#0000ff" stroke-width="1.25"/>
<circle cx="81.3" cy="301.6" r="2.65" fill="none" stroke="#0000ff" stroke-width="1.25"/>
<circle cx="91.2" cy="301.6" r="2.65" fill="none" stroke="#0000ff" stroke-width="1.25"/>
<circle cx="91.2" cy="306.3" r="2.65" fill="none" stroke="#0000ff" stroke-width="1.25"/>
<circle cx="80.7" cy="308.6" r="2.65" fill="none" stroke="#0000ff" stroke-width="1.25"/>
<circle cx="88.3" cy="310.9" r="2.65" fill="none" stroke="#0000ff" stroke-width="1.25"/>
<circle cx="84.2" cy="313.3" r="2.65" fill="none" stroke="#0000ff" stroke-width="1.25"/>
<circle cx="90.0" cy="316.2" r="2.65" fill="none" stroke="#0000ff" stroke-width="1.25"/>
<circle cx="84.8" cy="317.9" r="2.65" fill="none" stroke="#0000ff" stroke-width="1.25"/>
<circle cx="83.6" cy="320.8" r="2.65" fill="none" stroke="#0000ff" stroke-width="1.25"/>
<circle cx="88.3" cy="321.4" r="2.65" fill="none" stroke="#0000ff" stroke-width="1.25"/>
<circle cx="92.9" cy="322.0" r="2.65" fill="none" stroke="#0000ff" stroke-width="1.25"/>
<circle cx="85.9" cy="324.3" r="2.65" fill="none" stroke="#0000ff" stroke-width="1.25"/>
<circle cx="94.1" cy="326.6" r="2.65" fill="none" stroke="#0000ff" stroke-width="1.25"/>
<circle cx="88.3" cy="326.0" r="2.65" fill="none" stroke="#0000ff" stroke-width="1.25"/>
<circle cx="84.2" cy="328.4" r="2.65" fill="none" stroke="#0000ff" stroke-width="1.25"/>
<circle cx="77.2" cy="328.4" r="2.65" fill="none" stroke="#0000ff" stroke-width="1.25"/>
<circle cx="78.4" cy="330.7" r="2.65" fill="none" stroke="#0000ff" stroke-width="1.25"/>
<circle cx="113.8" cy="311.5" r="2.65" fill="none" stroke="#0000ff" stroke-width="1.25"/>
<circle cx="115.0" cy="314.4" r="2.65" fill="none" stroke="#0000ff" stroke-width="1.25"/>
<circle cx="109.2" cy="322.0" r="2.65" fill="none" stroke="#0000ff" stroke-width="1.25"/>
<circle cx="103.4" cy="323.7" r="2.65" fill="none" stroke="#0000ff" stroke-width="1.25"/>
<circle cx="112.7" cy="326.0" r="2.65" fill="none" stroke="#0000ff" stroke-width="1.25"/>
<circle cx="94.1" cy="336.5" r="2.65" fill="none" stroke="#0000ff" stroke-width="1.25"/>
<circle cx="99.9" cy="334.8" r="2.65" fill="none" stroke="#0000ff" stroke-width="1.25"/>
<circle cx="106.3" cy="337.7" r="2.65" fill="none" stroke="#0000ff" stroke-width="1.25"/>
<circle cx="115.0" cy="342.3" r="2.65" fill="none" stroke="#0000ff" stroke-width="1.25"/>
<circle cx="118.5" cy="342.9" r="2.65" fill="none" stroke="#0000ff" stroke-width="1.25"/>
<circle cx="77.2" cy="338.8" r="2.65" fill="none" stroke="#0000ff" stroke-width="1.25"/>
<circle cx="77.8" cy="342.9" r="2.65" fill="none" stroke="#0000ff" stroke-width="1.25"/>
<circle cx="74.9" cy="347.6" r="2.65" fill="none" stroke="#0000ff" stroke-width="1.25"/>
<circle cx="77.2" cy="345.8" r="2.65" fill="none" stroke="#0000ff" stroke-width="1.25"/>
<circle cx="80.1" cy="350.5" r="2.65" fill="none" stroke="#0000ff" stroke-width="1.25"/>
<circle cx="124.3" cy="346.4" r="2.65" fill="none" stroke="#0000ff" stroke-width="1.25"/>
<circle cx="109.2" cy="290.6" r="2.65" fill="none" stroke="#0000ff" stroke-width="1.25"/>
<circle cx="123.7" cy="294.7" r="2.65" fill="none" stroke="#0000ff" stroke-width="1.25"/>
<circle cx="113.8" cy="257.8" r="2.65" fill="none" stroke="#0000ff" stroke-width="1.25"/>
<circle cx="116.4" cy="268.0" r="2.65" fill="none" stroke="#0000ff" stroke-width="1.25"/>
<circle cx="111.9" cy="273.0" r="2.65" fill="none" stroke="#0000ff" stroke-width="1.25"/>
<circle cx="107.0" cy="277.3" r="2.65" fill="none" stroke="#0000ff" stroke-width="1.25"/>
<circle cx="117.9" cy="276.6" r="2.65" fill="none" stroke="#0000ff" stroke-width="1.25"/>
<circle cx="107.0" cy="287.0" r="2.65" fill="none" stroke="#0000ff" stroke-width="1.25"/>
<circle cx="109.0" cy="290.2" r="2.65" fill="none" stroke="#0000ff" stroke-width="1.25"/>
<circle cx="96.5" cy="289.5" r="2.65" fill="none" stroke="#0000ff" stroke-width="1.25"/>
<circle cx="99.7" cy="291.2" r="2.65" fill="none" stroke="#0000ff" stroke-width="1.25"/>
<circle cx="121.8" cy="264.9" r="2.65" fill="none" stroke="#0000ff" stroke-width="1.25"/>
<circle cx="116.3" cy="268.1" r="2.65" fill="none" stroke="#0000ff" stroke-width="1.25"/>
<circle cx="112.1" cy="272.6" r="2.65" fill="none" stroke="#0000ff" stroke-width="1.25"/>
<circle cx="123.2" cy="272.3" r="2.65" fill="none" stroke="#0000ff" stroke-width="1.25"/>
<circle cx="126.7" cy="273.7" r="2.65" fill="none" stroke="#0000ff" stroke-width="1.25"/>
<circle cx="118.3" cy="276.5" r="2.65" fill="none" stroke="#0000ff" stroke-width="1.25"/>
<circle cx="149.7" cy="268.4" r="2.65" fill="none" stroke="#0000ff" stroke-width="1.25"/>
<circle cx="155.2" cy="269.8" r="2.65" fill="none" stroke="#0000ff" stroke-width="1.25"/>
<circle cx="153.8" cy="273.3" r="2.65" fill="none" stroke="#0000ff" stroke-width="1.25"/>
<circle cx="162.9" cy="278.8" r="2.65" fill="none" stroke="#0000ff" stroke-width="1.25"/>
<circle cx="167.7" cy="278.8" r="2.65" fill="none" stroke="#0000ff" stroke-width="1.25"/>
<circle cx="174.7" cy="276.7" r="2.65" fill="none" stroke="#0000ff" stroke-width="1.25"/>
<circle cx="178.9" cy="277.9" r="2.65" fill="none" stroke="#0000ff" stroke-width="1.25"/>
<circle cx="177.5" cy="281.6" r="2.65" fill="none" stroke="#0000ff" stroke-width="1.25"/>
<circle cx="170.5" cy="287.9" r="2.65" fill="none" stroke="#0000ff" stroke-width="1.25"/>
<circle cx="177.5" cy="287.2" r="2.65" fill="none" stroke="#0000ff" stroke-width="1.25"/>
<circle cx="156.6" cy="283.7" r="2.65" fill="none" stroke="#0000ff" stroke-width="1.25"/>
<circle cx="130.9" cy="291.8" r="2.65" fill="none" stroke="#0000ff" stroke-width="1.25"/>
<circle cx="135.7" cy="292.0" r="2.65" fill="none" stroke="#0000ff" stroke-width="1.25"/>
<circle cx="123.9" cy="294.5" r="2.65" fill="none" stroke="#0000ff" stroke-width="1.25"/>
<circle cx="149.0" cy="295.5" r="2.65" fill="none" stroke="#0000ff" stroke-width="1.25"/>
<circle cx="142.0" cy="300.4" r="2.65" fill="none" stroke="#0000ff" stroke-width="1.25"/>
<circle cx="125.3" cy="301.5" r="2.65" fill="none" stroke="#0000ff" stroke-width="1.25"/>
<circle cx="136.4" cy="303.9" r="2.65" fill="none" stroke="#0000ff" stroke-width="1.25"/>
<circle cx="126.0" cy="307.6" r="2.65" fill="none" stroke="#0000ff" stroke-width="1.25"/>
<circle cx="131.6" cy="310.8" r="2.65" fill="none" stroke="#0000ff" stroke-width="1.25"/>
<circle cx="114.9" cy="310.8" r="2.65" fill="none" stroke="#0000ff" stroke-width="1.25"/>
<circle cx="110.7" cy="289.3" r="2.65" fill="none" stroke="#0000ff" stroke-width="1.25"/>
<circle cx="180.0" cy="277.8" r="2.65" fill="none" stroke="#0000ff" stroke-width="1.25"/>
<circle cx="196.7" cy="301.2" r="2.65" fill="none" stroke="#0000ff" stroke-width="1.25"/>
<circle cx="191.8" cy="305.4" r="2.65" fill="none" stroke="#0000ff" stroke-width="1.25"/>
<circle cx="231.5" cy="311.7" r="2.65" fill="none" stroke="#0000ff" stroke-width="1.25"/>
<circle cx="223.1" cy="315.8" r="2.65" fill="none" stroke="#0000ff" stroke-width="1.25"/>
<circle cx="126.3" cy="345.9" r="2.65" fill="none" stroke="#0000ff" stroke-width="1.25"/>
<circle cx="131.8" cy="310.4" r="2.65" fill="none" stroke="#0000ff" stroke-width="1.25"/>
<circle cx="125.6" cy="307.7" r="2.65" fill="none" stroke="#0000ff" stroke-width="1.25"/>
<circle cx="234.0" cy="336.2" r="2.65" fill="none" stroke="#0000ff" stroke-width="1.25"/>
<circle cx="117.3" cy="294.1" r="3.2" fill="#0000ff"/>
<circle cx="118.5" cy="308.6" r="3.2" fill="#0000ff"/>
<circle cx="128.8" cy="271.5" r="3.2" fill="#0000ff"/>
<circle cx="135.7" cy="270.9" r="3.2" fill="#0000ff"/>
<circle cx="139.9" cy="275.3" r="3.2" fill="#0000ff"/>
<circle cx="143.4" cy="275.3" r="3.2" fill="#0000ff"/>
<circle cx="137.1" cy="280.9" r="3.2" fill="#0000ff"/>
<circle cx="135.7" cy="285.1" r="3.2" fill="#0000ff"/>
<circle cx="152.4" cy="280.9" r="3.2" fill="#0000ff"/>
<circle cx="147.6" cy="283.7" r="3.2" fill="#0000ff"/>
<circle cx="165.0" cy="268.0" r="3.2" fill="#0000ff"/>
<circle cx="187.2" cy="277.4" r="3.2" fill="#0000ff"/>
<circle cx="117.0" cy="293.4" r="3.2" fill="#0000ff"/>
<circle cx="142.0" cy="293.4" r="3.2" fill="#0000ff"/>
<circle cx="142.0" cy="305.3" r="3.2" fill="#0000ff"/>
<circle cx="154.5" cy="303.2" r="3.2" fill="#0000ff"/>
<circle cx="187.7" cy="277.3" r="3.2" fill="#0000ff"/>
<circle cx="190.4" cy="281.0" r="3.2" fill="#0000ff"/>
<circle cx="201.6" cy="290.8" r="3.2" fill="#0000ff"/>
<circle cx="142.3" cy="304.9" r="3.2" fill="#0000ff"/>
<circle cx="154.1" cy="303.1" r="3.2" fill="#0000ff"/>
<polygon points="98.7,310.4 101.5,315.2 95.9,315.2" fill="none" stroke="#ff0000" stroke-width="1.25" stroke-linejoin="miter"/>
<polygon points="120.8,301.1 123.6,305.9 118.0,305.9" fill="none" stroke="#ff0000" stroke-width="1.25" stroke-linejoin="miter"/>
<polygon points="101.0,324.3 103.8,329.1 98.2,329.1" fill="none" stroke="#ff0000" stroke-width="1.25" stroke-linejoin="miter"/>
<polygon points="81.9,334.2 84.7,339.0 79.1,339.0" fill="none" stroke="#ff0000" stroke-width="1.25" stroke-linejoin="miter"/>
<polygon points="109.8,336.5 112.6,341.3 107.0,341.3" fill="none" stroke="#ff0000" stroke-width="1.25" stroke-linejoin="miter"/>
<polygon points="115.0,327.2 117.8,332.0 112.2,332.0" fill="none" stroke="#ff0000" stroke-width="1.25" stroke-linejoin="miter"/>
<polygon points="116.2,332.4 119.0,337.2 113.4,337.2" fill="none" stroke="#ff0000" stroke-width="1.25" stroke-linejoin="miter"/>
<polygon points="103.4,341.2 106.2,346.0 100.6,346.0" fill="none" stroke="#ff0000" stroke-width="1.25" stroke-linejoin="miter"/>
<polygon points="95.2,345.8 98.0,350.6 92.4,350.6" fill="none" stroke="#ff0000" stroke-width="1.25" stroke-linejoin="miter"/>
<polygon points="99.3,348.1 102.1,352.9 96.5,352.9" fill="none" stroke="#ff0000" stroke-width="1.25" stroke-linejoin="miter"/>
<polygon points="104.0,348.7 106.8,353.5 101.2,353.5" fill="none" stroke="#ff0000" stroke-width="1.25" stroke-linejoin="miter"/>
<polygon points="76.6,350.5 79.4,355.3 73.8,355.3" fill="none" stroke="#ff0000" stroke-width="1.25" stroke-linejoin="miter"/>
<polygon points="88.3,351.6 91.1,356.4 85.5,356.4" fill="none" stroke="#ff0000" stroke-width="1.25" stroke-linejoin="miter"/>
<polygon points="121.1,301.2 123.9,306.0 118.3,306.0" fill="none" stroke="#ff0000" stroke-width="1.25" stroke-linejoin="miter"/>
<polygon points="201.6,309.4 204.4,314.2 198.8,314.2" fill="none" stroke="#ff0000" stroke-width="1.25" stroke-linejoin="miter"/>
<polygon points="131.1,318.0 133.9,322.8 128.3,322.8" fill="none" stroke="#ff0000" stroke-width="1.25" stroke-linejoin="miter"/>
<polygon points="149.2,319.4 152.0,324.2 146.4,324.2" fill="none" stroke="#ff0000" stroke-width="1.25" stroke-linejoin="miter"/>
<polygon points="149.9,324.2 152.7,329.0 147.1,329.0" fill="none" stroke="#ff0000" stroke-width="1.25" stroke-linejoin="miter"/>
<polygon points="159.0,326.3 161.8,331.1 156.2,331.1" fill="none" stroke="#ff0000" stroke-width="1.25" stroke-linejoin="miter"/>
<polygon points="163.8,319.4 166.6,324.2 161.0,324.2" fill="none" stroke="#ff0000" stroke-width="1.25" stroke-linejoin="miter"/>
<polygon points="163.1,323.5 165.9,328.3 160.3,328.3" fill="none" stroke="#ff0000" stroke-width="1.25" stroke-linejoin="miter"/>
<polygon points="168.7,323.5 171.5,328.3 165.9,328.3" fill="none" stroke="#ff0000" stroke-width="1.25" stroke-linejoin="miter"/>
<polygon points="186.1,324.2 188.9,329.0 183.3,329.0" fill="none" stroke="#ff0000" stroke-width="1.25" stroke-linejoin="miter"/>
<polygon points="191.0,324.2 193.8,329.0 188.2,329.0" fill="none" stroke="#ff0000" stroke-width="1.25" stroke-linejoin="miter"/>
<polygon points="193.0,318.0 195.8,322.8 190.2,322.8" fill="none" stroke="#ff0000" stroke-width="1.25" stroke-linejoin="miter"/>
<polygon points="199.3,318.0 202.1,322.8 196.5,322.8" fill="none" stroke="#ff0000" stroke-width="1.25" stroke-linejoin="miter"/>
<polygon points="120.7,301.3 123.5,306.1 117.9,306.1" fill="none" stroke="#ff0000" stroke-width="1.25" stroke-linejoin="miter"/>
<polygon points="187.0,324.1 189.8,328.9 184.2,328.9" fill="none" stroke="#ff0000" stroke-width="1.25" stroke-linejoin="miter"/>
<polygon points="201.7,310.1 204.5,314.9 198.9,314.9" fill="none" stroke="#ff0000" stroke-width="1.25" stroke-linejoin="miter"/>
<polygon points="123.1,321.0 126.8,327.4 119.4,327.4" fill="#ff0000"/>
<polygon points="124.2,321.8 127.9,328.2 120.5,328.2" fill="#ff0000"/>
<polygon points="123.1,330.3 126.8,336.7 119.4,336.7" fill="#ff0000"/>
<polygon points="124.2,331.6 127.9,338.0 120.5,338.0" fill="#ff0000"/>
<polygon points="179.1,309.3 182.8,315.7 175.4,315.7" fill="#ff0000"/>
<polygon points="171.5,312.8 175.2,319.2 167.8,319.2" fill="#ff0000"/>
<polygon points="126.0,324.1 129.7,330.5 122.3,330.5" fill="#ff0000"/>
<rect x="353.5" y="212.2" width="206.89999999999998" height="153.0" fill="none" stroke="#000" stroke-width="1.4"/>
<line x1="372.30" y1="365.20" x2="372.30" y2="362.60" stroke="#000" stroke-width="1.1" />
<line x1="409.90" y1="365.20" x2="409.90" y2="362.60" stroke="#000" stroke-width="1.1" />
<line x1="447.50" y1="365.20" x2="447.50" y2="362.60" stroke="#000" stroke-width="1.1" />
<line x1="485.10" y1="365.20" x2="485.10" y2="362.60" stroke="#000" stroke-width="1.1" />
<line x1="522.70" y1="365.20" x2="522.70" y2="362.60" stroke="#000" stroke-width="1.1" />
<line x1="560.30" y1="365.20" x2="560.30" y2="362.60" stroke="#000" stroke-width="1.1" />
<line x1="391.10" y1="365.20" x2="391.10" y2="363.60" stroke="#000" stroke-width="1.0" />
<line x1="428.70" y1="365.20" x2="428.70" y2="363.60" stroke="#000" stroke-width="1.0" />
<line x1="466.30" y1="365.20" x2="466.30" y2="363.60" stroke="#000" stroke-width="1.0" />
<line x1="503.90" y1="365.20" x2="503.90" y2="363.60" stroke="#000" stroke-width="1.0" />
<line x1="541.50" y1="365.20" x2="541.50" y2="363.60" stroke="#000" stroke-width="1.0" />
<line x1="353.50" y1="353.60" x2="356.10" y2="353.60" stroke="#000" stroke-width="1.1" />
<line x1="353.50" y1="306.50" x2="356.10" y2="306.50" stroke="#000" stroke-width="1.1" />
<line x1="353.50" y1="259.40" x2="356.10" y2="259.40" stroke="#000" stroke-width="1.1" />
<line x1="353.50" y1="212.30" x2="356.10" y2="212.30" stroke="#000" stroke-width="1.1" />
<line x1="353.50" y1="330.05" x2="355.10" y2="330.05" stroke="#000" stroke-width="1.0" />
<line x1="353.50" y1="282.95" x2="355.10" y2="282.95" stroke="#000" stroke-width="1.0" />
<line x1="353.50" y1="235.85" x2="355.10" y2="235.85" stroke="#000" stroke-width="1.0" />
<text x="372.3" y="377.2" font-size="10" text-anchor="middle" font-weight="bold" font-style="normal" fill="#000" >0</text>
<text x="409.9" y="377.2" font-size="10" text-anchor="middle" font-weight="bold" font-style="normal" fill="#000" >1000</text>
<text x="447.5" y="377.2" font-size="10" text-anchor="middle" font-weight="bold" font-style="normal" fill="#000" >2000</text>
<text x="485.1" y="377.2" font-size="10" text-anchor="middle" font-weight="bold" font-style="normal" fill="#000" >3000</text>
<text x="522.7" y="377.2" font-size="10" text-anchor="middle" font-weight="bold" font-style="normal" fill="#000" >4000</text>
<text x="560.3" y="377.2" font-size="10" text-anchor="middle" font-weight="bold" font-style="normal" fill="#000" >5000</text>
<text x="350.0" y="357.1" font-size="10" text-anchor="end" font-weight="bold" font-style="normal" fill="#000" >0</text>
<text x="350.0" y="310.0" font-size="10" text-anchor="end" font-weight="bold" font-style="normal" fill="#000" >40</text>
<text x="350.0" y="262.9" font-size="10" text-anchor="end" font-weight="bold" font-style="normal" fill="#000" >80</text>
<text x="350.0" y="215.8" font-size="10" text-anchor="end" font-weight="bold" font-style="normal" fill="#000" >120</text>
<text x="298.5" y="220.5" font-size="24" text-anchor="start" font-weight="bold" font-style="normal" fill="#000" >(d)</text>
<text x="0" y="0" font-size="14" font-weight="bold" text-anchor="middle" transform="translate(334,289.6) rotate(-90)"><tspan font-style="italic">μ</tspan><tspan dy="3" font-size="62%">H</tspan><tspan dy="-3"> (cm</tspan><tspan dy="-6" font-size="62%">2</tspan><tspan dy="6">V</tspan><tspan dy="-6" font-size="62%">-1</tspan><tspan dy="6">s</tspan><tspan dy="-6" font-size="62%">-1</tspan><tspan dy="6">)</tspan></text>
<text x="423.4" y="391.4" font-size="13.5" text-anchor="start" font-weight="bold" font-style="normal" fill="#000" ><tspan font-style="italic">σ</tspan> (Scm<tspan dy="-6" font-size="62%">-1</tspan><tspan dy="6">)</tspan></text>
<text x="362.6" y="232.3" font-size="16.5" text-anchor="start" font-weight="bold" font-style="normal" fill="#000" >300 K</text>
<circle cx="375.0" cy="240.0" r="2.65" fill="none" stroke="#0000ff" stroke-width="1.25"/>
<circle cx="379.0" cy="250.4" r="2.65" fill="none" stroke="#0000ff" stroke-width="1.25"/>
<circle cx="378.0" cy="272.3" r="2.65" fill="none" stroke="#0000ff" stroke-width="1.25"/>
<circle cx="382.6" cy="270.9" r="2.65" fill="none" stroke="#0000ff" stroke-width="1.25"/>
<circle cx="386.0" cy="276.5" r="2.65" fill="none" stroke="#0000ff" stroke-width="1.25"/>
<circle cx="389.0" cy="279.5" r="2.65" fill="none" stroke="#0000ff" stroke-width="1.25"/>
<circle cx="389.0" cy="286.3" r="2.65" fill="none" stroke="#0000ff" stroke-width="1.25"/>
<circle cx="393.3" cy="286.3" r="2.65" fill="none" stroke="#0000ff" stroke-width="1.25"/>
<circle cx="387.0" cy="294.3" r="2.65" fill="none" stroke="#0000ff" stroke-width="1.25"/>
<circle cx="384.0" cy="298.3" r="2.65" fill="none" stroke="#0000ff" stroke-width="1.25"/>
<circle cx="393.9" cy="299.3" r="2.65" fill="none" stroke="#0000ff" stroke-width="1.25"/>
<circle cx="381.0" cy="304.8" r="2.65" fill="none" stroke="#0000ff" stroke-width="1.25"/>
<circle cx="382.0" cy="309.4" r="2.65" fill="none" stroke="#0000ff" stroke-width="1.25"/>
<circle cx="394.5" cy="310.2" r="2.65" fill="none" stroke="#0000ff" stroke-width="1.25"/>
<circle cx="404.9" cy="271.3" r="2.65" fill="none" stroke="#0000ff" stroke-width="1.25"/>
<circle cx="410.9" cy="271.9" r="2.65" fill="none" stroke="#0000ff" stroke-width="1.25"/>
<circle cx="419.9" cy="287.5" r="2.65" fill="none" stroke="#0000ff" stroke-width="1.25"/>
<circle cx="423.9" cy="295.9" r="2.65" fill="none" stroke="#0000ff" stroke-width="1.25"/>
<circle cx="413.9" cy="302.2" r="2.65" fill="none" stroke="#0000ff" stroke-width="1.25"/>
<circle cx="406.9" cy="301.8" r="2.65" fill="none" stroke="#0000ff" stroke-width="1.25"/>
<circle cx="404.9" cy="307.2" r="2.65" fill="none" stroke="#0000ff" stroke-width="1.25"/>
<circle cx="420.9" cy="305.8" r="2.65" fill="none" stroke="#0000ff" stroke-width="1.25"/>
<circle cx="418.9" cy="308.8" r="2.65" fill="none" stroke="#0000ff" stroke-width="1.25"/>
<circle cx="388.9" cy="316.4" r="2.65" fill="none" stroke="#0000ff" stroke-width="1.25"/>
<circle cx="376.0" cy="318.4" r="2.65" fill="none" stroke="#0000ff" stroke-width="1.25"/>
<circle cx="376.0" cy="324.2" r="2.65" fill="none" stroke="#0000ff" stroke-width="1.25"/>
<circle cx="382.0" cy="327.2" r="2.65" fill="none" stroke="#0000ff" stroke-width="1.25"/>
<circle cx="391.9" cy="327.2" r="2.65" fill="none" stroke="#0000ff" stroke-width="1.25"/>
<circle cx="408.9" cy="318.8" r="2.65" fill="none" stroke="#0000ff" stroke-width="1.25"/>
<circle cx="415.9" cy="316.8" r="2.65" fill="none" stroke="#0000ff" stroke-width="1.25"/>
<circle cx="400.9" cy="328.8" r="2.65" fill="none" stroke="#0000ff" stroke-width="1.25"/>
<circle cx="412.9" cy="330.2" r="2.65" fill="none" stroke="#0000ff" stroke-width="1.25"/>
<circle cx="422.9" cy="326.8" r="2.65" fill="none" stroke="#0000ff" stroke-width="1.25"/>
<circle cx="429.8" cy="325.8" r="2.65" fill="none" stroke="#0000ff" stroke-width="1.25"/>
<circle cx="433.8" cy="321.8" r="2.65" fill="none" stroke="#0000ff" stroke-width="1.25"/>
<circle cx="428.8" cy="329.8" r="2.65" fill="none" stroke="#0000ff" stroke-width="1.25"/>
<circle cx="435.8" cy="331.8" r="2.65" fill="none" stroke="#0000ff" stroke-width="1.25"/>
<circle cx="373.0" cy="332.2" r="2.65" fill="none" stroke="#0000ff" stroke-width="1.25"/>
<circle cx="375.0" cy="337.2" r="2.65" fill="none" stroke="#0000ff" stroke-width="1.25"/>
<circle cx="374.0" cy="342.7" r="2.65" fill="none" stroke="#0000ff" stroke-width="1.25"/>
<circle cx="376.0" cy="345.7" r="2.65" fill="none" stroke="#0000ff" stroke-width="1.25"/>
<circle cx="377.0" cy="348.3" r="2.65" fill="none" stroke="#0000ff" stroke-width="1.25"/>
<circle cx="386.0" cy="335.8" r="2.65" fill="none" stroke="#0000ff" stroke-width="1.25"/>
<circle cx="391.9" cy="332.2" r="2.65" fill="none" stroke="#0000ff" stroke-width="1.25"/>
<circle cx="391.9" cy="337.8" r="2.65" fill="none" stroke="#0000ff" stroke-width="1.25"/>
<circle cx="397.9" cy="338.8" r="2.65" fill="none" stroke="#0000ff" stroke-width="1.25"/>
<circle cx="403.9" cy="338.8" r="2.65" fill="none" stroke="#0000ff" stroke-width="1.25"/>
<circle cx="409.9" cy="339.8" r="2.65" fill="none" stroke="#0000ff" stroke-width="1.25"/>
<circle cx="447.4" cy="301.0" r="2.65" fill="none" stroke="#0000ff" stroke-width="1.25"/>
<circle cx="452.6" cy="303.9" r="2.65" fill="none" stroke="#0000ff" stroke-width="1.25"/>
<circle cx="454.3" cy="305.7" r="2.65" fill="none" stroke="#0000ff" stroke-width="1.25"/>
<circle cx="460.4" cy="308.3" r="2.65" fill="none" stroke="#0000ff" stroke-width="1.25"/>
<circle cx="465.7" cy="307.9" r="2.65" fill="none" stroke="#0000ff" stroke-width="1.25"/>
<circle cx="474.9" cy="301.0" r="2.65" fill="none" stroke="#0000ff" stroke-width="1.25"/>
<circle cx="467.9" cy="316.1" r="2.65" fill="none" stroke="#0000ff" stroke-width="1.25"/>
<circle cx="476.6" cy="318.7" r="2.65" fill="none" stroke="#0000ff" stroke-width="1.25"/>
<circle cx="446.2" cy="319.0" r="2.65" fill="none" stroke="#0000ff" stroke-width="1.25"/>
<circle cx="454.9" cy="320.4" r="2.65" fill="none" stroke="#0000ff" stroke-width="1.25"/>
<circle cx="433.5" cy="322.2" r="2.65" fill="none" stroke="#0000ff" stroke-width="1.25"/>
<circle cx="435.2" cy="331.7" r="2.65" fill="none" stroke="#0000ff" stroke-width="1.25"/>
<circle cx="488.8" cy="330.9" r="2.65" fill="none" stroke="#0000ff" stroke-width="1.25"/>
<circle cx="529.1" cy="307.4" r="2.65" fill="none" stroke="#0000ff" stroke-width="1.25"/>
<circle cx="528.3" cy="335.2" r="2.65" fill="none" stroke="#0000ff" stroke-width="1.25"/>
<circle cx="433.2" cy="285.9" r="3.2" fill="#0000ff"/>
<circle cx="426.4" cy="292.3" r="3.2" fill="#0000ff"/>
<circle cx="436.8" cy="293.9" r="3.2" fill="#0000ff"/>
<circle cx="440.8" cy="296.9" r="3.2" fill="#0000ff"/>
<circle cx="440.4" cy="303.8" r="3.2" fill="#0000ff"/>
<circle cx="439.8" cy="306.8" r="3.2" fill="#0000ff"/>
<circle cx="439.8" cy="317.4" r="3.2" fill="#0000ff"/>
<circle cx="414.5" cy="324.8" r="3.2" fill="#0000ff"/>
<circle cx="412.9" cy="328.8" r="3.2" fill="#0000ff"/>
<circle cx="437.0" cy="294.3" r="3.2" fill="#0000ff"/>
<circle cx="441.3" cy="297.0" r="3.2" fill="#0000ff"/>
<circle cx="450.0" cy="304.8" r="3.2" fill="#0000ff"/>
<circle cx="462.2" cy="304.8" r="3.2" fill="#0000ff"/>
<circle cx="484.8" cy="308.3" r="3.2" fill="#0000ff"/>
<circle cx="487.4" cy="312.6" r="3.2" fill="#0000ff"/>
<circle cx="499.2" cy="320.8" r="3.2" fill="#0000ff"/>
<circle cx="451.7" cy="317.3" r="3.2" fill="#0000ff"/>
<circle cx="445.7" cy="323.9" r="3.2" fill="#0000ff"/>
<polygon points="401.5,308.9 404.3,313.7 398.7,313.7" fill="none" stroke="#ff0000" stroke-width="1.25" stroke-linejoin="miter"/>
<polygon points="392.9,318.5 395.7,323.3 390.1,323.3" fill="none" stroke="#ff0000" stroke-width="1.25" stroke-linejoin="miter"/>
<polygon points="406.9,326.5 409.7,331.3 404.1,331.3" fill="none" stroke="#ff0000" stroke-width="1.25" stroke-linejoin="miter"/>
<polygon points="413.9,339.2 416.7,344.0 411.1,344.0" fill="none" stroke="#ff0000" stroke-width="1.25" stroke-linejoin="miter"/>
<polygon points="400.5,342.8 403.3,347.6 397.7,347.6" fill="none" stroke="#ff0000" stroke-width="1.25" stroke-linejoin="miter"/>
<polygon points="409.9,346.8 412.7,351.6 407.1,351.6" fill="none" stroke="#ff0000" stroke-width="1.25" stroke-linejoin="miter"/>
<polygon points="414.9,346.8 417.7,351.6 412.1,351.6" fill="none" stroke="#ff0000" stroke-width="1.25" stroke-linejoin="miter"/>
<polygon points="428.8,338.4 431.6,343.2 426.0,343.2" fill="none" stroke="#ff0000" stroke-width="1.25" stroke-linejoin="miter"/>
<polygon points="446.5,341.5 449.3,346.3 443.7,346.3" fill="none" stroke="#ff0000" stroke-width="1.25" stroke-linejoin="miter"/>
<polygon points="456.1,346.2 458.9,351.0 453.3,351.0" fill="none" stroke="#ff0000" stroke-width="1.25" stroke-linejoin="miter"/>
<polygon points="461.8,347.1 464.6,351.9 459.0,351.9" fill="none" stroke="#ff0000" stroke-width="1.25" stroke-linejoin="miter"/>
<polygon points="464.4,337.0 467.2,341.8 461.6,341.8" fill="none" stroke="#ff0000" stroke-width="1.25" stroke-linejoin="miter"/>
<polygon points="484.3,343.6 487.1,348.4 481.5,348.4" fill="none" stroke="#ff0000" stroke-width="1.25" stroke-linejoin="miter"/>
<polygon points="488.3,336.3 491.1,341.1 485.5,341.1" fill="none" stroke="#ff0000" stroke-width="1.25" stroke-linejoin="miter"/>
<polygon points="490.9,332.8 493.7,337.6 488.1,337.6" fill="none" stroke="#ff0000" stroke-width="1.25" stroke-linejoin="miter"/>
<polygon points="498.7,340.1 501.5,344.9 495.9,344.9" fill="none" stroke="#ff0000" stroke-width="1.25" stroke-linejoin="miter"/>
<polygon points="498.7,342.8 501.5,347.6 495.9,347.6" fill="none" stroke="#ff0000" stroke-width="1.25" stroke-linejoin="miter"/>
<polygon points="430.0,338.4 432.8,343.2 427.2,343.2" fill="none" stroke="#ff0000" stroke-width="1.25" stroke-linejoin="miter"/>
<polygon points="421.9,343.8 425.6,350.2 418.2,350.2" fill="#ff0000"/>
<polygon points="424.9,343.8 428.6,350.2 421.2,350.2" fill="#ff0000"/>
<polygon points="419.9,345.4 423.6,351.8 416.2,351.8" fill="#ff0000"/>
<circle cx="439.0" cy="223.8" r="2.2" fill="none" stroke="#0000ff" stroke-width="1.25"/>
<circle cx="439.0" cy="237.6" r="3.0" fill="#0000ff"/>
<polygon points="439.0,249.4 441.7,254.0 436.3,254.0" fill="none" stroke="#ff0000" stroke-width="1.25" stroke-linejoin="miter"/>
<polygon points="439.0,262.2 442.7,268.6 435.3,268.6" fill="#ff0000"/>
<text x="454.8" y="227.0" font-size="10.6" text-anchor="start" font-weight="bold" font-style="normal" fill="#000" ><tspan font-style="italic">n</tspan>-type (single filled)</text>
<text x="452.0" y="240.7" font-size="10.6" text-anchor="start" font-weight="bold" font-style="normal" fill="#000" ><tspan font-style="italic">n</tspan>-type (multiple filled)</text>
<text x="451.3" y="255.2" font-size="10.6" text-anchor="start" font-weight="bold" font-style="normal" fill="#000" ><tspan font-style="italic">p</tspan>-type (single filled)</text>
<text x="451.3" y="268.9" font-size="10.6" text-anchor="start" font-weight="bold" font-style="normal" fill="#000" ><tspan font-style="italic">p</tspan>-type (multiple filled)</text>
<rect x="56.5" y="411.3" width="207.10000000000002" height="150.7" fill="none" stroke="#000" stroke-width="1.4"/>
<line x1="56.50" y1="562.00" x2="56.50" y2="559.40" stroke="#000" stroke-width="1.1" />
<line x1="108.30" y1="562.00" x2="108.30" y2="559.40" stroke="#000" stroke-width="1.1" />
<line x1="160.10" y1="562.00" x2="160.10" y2="559.40" stroke="#000" stroke-width="1.1" />
<line x1="211.90" y1="562.00" x2="211.90" y2="559.40" stroke="#000" stroke-width="1.1" />
<line x1="263.70" y1="562.00" x2="263.70" y2="559.40" stroke="#000" stroke-width="1.1" />
<line x1="72.09" y1="562.00" x2="72.09" y2="560.40" stroke="#000" stroke-width="1.0" />
<line x1="81.21" y1="562.00" x2="81.21" y2="560.40" stroke="#000" stroke-width="1.0" />
<line x1="87.69" y1="562.00" x2="87.69" y2="560.40" stroke="#000" stroke-width="1.0" />
<line x1="92.71" y1="562.00" x2="92.71" y2="560.40" stroke="#000" stroke-width="1.0" />
<line x1="96.81" y1="562.00" x2="96.81" y2="560.40" stroke="#000" stroke-width="1.0" />
<line x1="100.28" y1="562.00" x2="100.28" y2="560.40" stroke="#000" stroke-width="1.0" />
<line x1="103.28" y1="562.00" x2="103.28" y2="560.40" stroke="#000" stroke-width="1.0" />
<line x1="105.93" y1="562.00" x2="105.93" y2="560.40" stroke="#000" stroke-width="1.0" />
<line x1="123.89" y1="562.00" x2="123.89" y2="560.40" stroke="#000" stroke-width="1.0" />
<line x1="133.01" y1="562.00" x2="133.01" y2="560.40" stroke="#000" stroke-width="1.0" />
<line x1="139.49" y1="562.00" x2="139.49" y2="560.40" stroke="#000" stroke-width="1.0" />
<line x1="144.51" y1="562.00" x2="144.51" y2="560.40" stroke="#000" stroke-width="1.0" />
<line x1="148.61" y1="562.00" x2="148.61" y2="560.40" stroke="#000" stroke-width="1.0" />
<line x1="152.08" y1="562.00" x2="152.08" y2="560.40" stroke="#000" stroke-width="1.0" />
<line x1="155.08" y1="562.00" x2="155.08" y2="560.40" stroke="#000" stroke-width="1.0" />
<line x1="157.73" y1="562.00" x2="157.73" y2="560.40" stroke="#000" stroke-width="1.0" />
<line x1="175.69" y1="562.00" x2="175.69" y2="560.40" stroke="#000" stroke-width="1.0" />
<line x1="184.81" y1="562.00" x2="184.81" y2="560.40" stroke="#000" stroke-width="1.0" />
<line x1="191.29" y1="562.00" x2="191.29" y2="560.40" stroke="#000" stroke-width="1.0" />
<line x1="196.31" y1="562.00" x2="196.31" y2="560.40" stroke="#000" stroke-width="1.0" />
<line x1="200.41" y1="562.00" x2="200.41" y2="560.40" stroke="#000" stroke-width="1.0" />
<line x1="203.88" y1="562.00" x2="203.88" y2="560.40" stroke="#000" stroke-width="1.0" />
<line x1="206.88" y1="562.00" x2="206.88" y2="560.40" stroke="#000" stroke-width="1.0" />
<line x1="209.53" y1="562.00" x2="209.53" y2="560.40" stroke="#000" stroke-width="1.0" />
<line x1="227.49" y1="562.00" x2="227.49" y2="560.40" stroke="#000" stroke-width="1.0" />
<line x1="236.61" y1="562.00" x2="236.61" y2="560.40" stroke="#000" stroke-width="1.0" />
<line x1="243.09" y1="562.00" x2="243.09" y2="560.40" stroke="#000" stroke-width="1.0" />
<line x1="248.11" y1="562.00" x2="248.11" y2="560.40" stroke="#000" stroke-width="1.0" />
<line x1="252.21" y1="562.00" x2="252.21" y2="560.40" stroke="#000" stroke-width="1.0" />
<line x1="255.68" y1="562.00" x2="255.68" y2="560.40" stroke="#000" stroke-width="1.0" />
<line x1="258.68" y1="562.00" x2="258.68" y2="560.40" stroke="#000" stroke-width="1.0" />
<line x1="261.33" y1="562.00" x2="261.33" y2="560.40" stroke="#000" stroke-width="1.0" />
<line x1="56.50" y1="543.50" x2="59.10" y2="543.50" stroke="#000" stroke-width="1.1" />
<line x1="56.50" y1="505.60" x2="59.10" y2="505.60" stroke="#000" stroke-width="1.1" />
<line x1="56.50" y1="467.70" x2="59.10" y2="467.70" stroke="#000" stroke-width="1.1" />
<line x1="56.50" y1="429.80" x2="59.10" y2="429.80" stroke="#000" stroke-width="1.1" />
<line x1="56.50" y1="562.45" x2="58.10" y2="562.45" stroke="#000" stroke-width="1.0" />
<line x1="56.50" y1="524.55" x2="58.10" y2="524.55" stroke="#000" stroke-width="1.0" />
<line x1="56.50" y1="486.65" x2="58.10" y2="486.65" stroke="#000" stroke-width="1.0" />
<line x1="56.50" y1="448.75" x2="58.10" y2="448.75" stroke="#000" stroke-width="1.0" />
<line x1="56.50" y1="410.85" x2="58.10" y2="410.85" stroke="#000" stroke-width="1.0" />
<text x="56.5" y="574.0" font-size="10" text-anchor="middle" font-weight="bold" font-style="normal" fill="#000" >0.01</text>
<text x="108.3" y="574.0" font-size="10" text-anchor="middle" font-weight="bold" font-style="normal" fill="#000" >0.1</text>
<text x="160.1" y="574.0" font-size="10" text-anchor="middle" font-weight="bold" font-style="normal" fill="#000" >1</text>
<text x="211.9" y="574.0" font-size="10" text-anchor="middle" font-weight="bold" font-style="normal" fill="#000" >10</text>
<text x="263.7" y="574.0" font-size="10" text-anchor="middle" font-weight="bold" font-style="normal" fill="#000" >100</text>
<text x="53.0" y="547.0" font-size="10" text-anchor="end" font-weight="bold" font-style="normal" fill="#000" >0</text>
<text x="53.0" y="509.1" font-size="10" text-anchor="end" font-weight="bold" font-style="normal" fill="#000" >200</text>
<text x="53.0" y="471.2" font-size="10" text-anchor="end" font-weight="bold" font-style="normal" fill="#000" >400</text>
<text x="53.0" y="433.3" font-size="10" text-anchor="end" font-weight="bold" font-style="normal" fill="#000" >600</text>
<text x="3.2" y="421.5" font-size="24" text-anchor="start" font-weight="bold" font-style="normal" fill="#000" >(e)</text>
<text x="0" y="0" font-size="14" font-weight="bold" text-anchor="middle" transform="translate(29,480.7) rotate(-90)">|<tspan font-style="italic">S</tspan>| (μVK<tspan dy="-6" font-size="62%">-1</tspan><tspan dy="6">)</tspan></text>
<text x="110.5" y="591.2" font-size="14.5" text-anchor="start" font-weight="bold" font-style="normal" fill="#000" ><tspan font-style="italic">n</tspan><tspan dy="3" font-size="62%">H</tspan><tspan dy="-3"> or </tspan><tspan font-style="italic">p</tspan><tspan dy="3" font-size="62%">H</tspan><tspan dy="-3"> (10</tspan><tspan dy="-6" font-size="62%">20</tspan><tspan dy="6">cm</tspan><tspan dy="-6" font-size="62%">-3</tspan><tspan dy="6">)</tspan></text>
<text x="74.8" y="548.7" font-size="16.5" text-anchor="start" font-weight="bold" font-style="normal" fill="#000" >300 K</text>
<path d="M57.0,412.5 L71.5,423.4 L84.9,432.0 L96.4,440.6 L107.8,449.2 L119.3,457.8 L130.8,465.5 L142.3,474.1 L155.7,483.7 L167.2,491.7 L180.6,501.2 L194.0,508.9 L207.4,516.5 L222.7,525.1 L236.1,529.9 L249.5,534.7 L263.0,537.0" fill="none" stroke="#ff0000" stroke-width="1.7" stroke-dasharray="6.3,8"/>
<path d="M56.5,432.7 L66.7,440.3 L78.5,448.9 L89.4,457.7 L102.2,466.3 L115.0,474.5 L126.3,482.7 L140.0,492.0 L155.0,501.0 L170.0,509.5 L186.0,517.0 L203.6,527.0 L217.0,532.8 L230.4,536.6 L243.7,539.5 L257.1,541.4 L263.0,542.0" fill="none" stroke="#0000ff" stroke-width="1.7" stroke-dasharray="6.3,8"/>
<circle cx="95.7" cy="425.2" r="2.65" fill="none" stroke="#0000ff" stroke-width="1.25"/>
<circle cx="89.7" cy="457.8" r="2.65" fill="none" stroke="#0000ff" stroke-width="1.25"/>
<circle cx="113.6" cy="472.2" r="2.65" fill="none" stroke="#0000ff" stroke-width="1.25"/>
<circle cx="117.4" cy="475.0" r="2.65" fill="none" stroke="#0000ff" stroke-width="1.25"/>
<circle cx="129.8" cy="475.0" r="2.65" fill="none" stroke="#0000ff" stroke-width="1.25"/>
<circle cx="136.5" cy="476.0" r="2.65" fill="none" stroke="#0000ff" stroke-width="1.25"/>
<circle cx="141.3" cy="481.7" r="2.65" fill="none" stroke="#0000ff" stroke-width="1.25"/>
<circle cx="150.9" cy="486.5" r="2.65" fill="none" stroke="#0000ff" stroke-width="1.25"/>
<circle cx="164.3" cy="493.2" r="2.65" fill="none" stroke="#0000ff" stroke-width="1.25"/>
<circle cx="127.0" cy="488.4" r="2.65" fill="none" stroke="#0000ff" stroke-width="1.25"/>
<circle cx="127.0" cy="492.6" r="2.65" fill="none" stroke="#0000ff" stroke-width="1.25"/>
<circle cx="136.5" cy="492.3" r="2.65" fill="none" stroke="#0000ff" stroke-width="1.25"/>
<circle cx="141.3" cy="490.4" r="2.65" fill="none" stroke="#0000ff" stroke-width="1.25"/>
<circle cx="136.5" cy="498.0" r="2.65" fill="none" stroke="#0000ff" stroke-width="1.25"/>
<circle cx="142.3" cy="498.0" r="2.65" fill="none" stroke="#0000ff" stroke-width="1.25"/>
<circle cx="144.2" cy="501.8" r="2.65" fill="none" stroke="#0000ff" stroke-width="1.25"/>
<circle cx="148.0" cy="500.9" r="2.65" fill="none" stroke="#0000ff" stroke-width="1.25"/>
<circle cx="151.8" cy="497.0" r="2.65" fill="none" stroke="#0000ff" stroke-width="1.25"/>
<circle cx="153.7" cy="500.9" r="2.65" fill="none" stroke="#0000ff" stroke-width="1.25"/>
<circle cx="154.7" cy="505.7" r="2.65" fill="none" stroke="#0000ff" stroke-width="1.25"/>
<circle cx="159.5" cy="503.7" r="2.65" fill="none" stroke="#0000ff" stroke-width="1.25"/>
<circle cx="159.5" cy="507.6" r="2.65" fill="none" stroke="#0000ff" stroke-width="1.25"/>
<circle cx="166.2" cy="507.6" r="2.65" fill="none" stroke="#0000ff" stroke-width="1.25"/>
<circle cx="166.2" cy="511.4" r="2.65" fill="none" stroke="#0000ff" stroke-width="1.25"/>
<circle cx="165.2" cy="517.1" r="2.65" fill="none" stroke="#0000ff" stroke-width="1.25"/>
<circle cx="151.0" cy="485.9" r="2.65" fill="none" stroke="#0000ff" stroke-width="1.25"/>
<circle cx="151.9" cy="497.4" r="2.65" fill="none" stroke="#0000ff" stroke-width="1.25"/>
<circle cx="154.8" cy="501.2" r="2.65" fill="none" stroke="#0000ff" stroke-width="1.25"/>
<circle cx="159.6" cy="503.1" r="2.65" fill="none" stroke="#0000ff" stroke-width="1.25"/>
<circle cx="152.9" cy="506.0" r="2.65" fill="none" stroke="#0000ff" stroke-width="1.25"/>
<circle cx="157.7" cy="507.0" r="2.65" fill="none" stroke="#0000ff" stroke-width="1.25"/>
<circle cx="170.1" cy="503.1" r="2.65" fill="none" stroke="#0000ff" stroke-width="1.25"/>
<circle cx="167.2" cy="507.9" r="2.65" fill="none" stroke="#0000ff" stroke-width="1.25"/>
<circle cx="175.8" cy="506.0" r="2.65" fill="none" stroke="#0000ff" stroke-width="1.25"/>
<circle cx="176.8" cy="510.8" r="2.65" fill="none" stroke="#0000ff" stroke-width="1.25"/>
<circle cx="169.1" cy="512.7" r="2.65" fill="none" stroke="#0000ff" stroke-width="1.25"/>
<circle cx="165.3" cy="517.5" r="2.65" fill="none" stroke="#0000ff" stroke-width="1.25"/>
<circle cx="170.1" cy="518.4" r="2.65" fill="none" stroke="#0000ff" stroke-width="1.25"/>
<circle cx="178.7" cy="520.4" r="2.65" fill="none" stroke="#0000ff" stroke-width="1.25"/>
<circle cx="184.4" cy="514.6" r="2.65" fill="none" stroke="#0000ff" stroke-width="1.25"/>
<circle cx="190.2" cy="518.4" r="2.65" fill="none" stroke="#0000ff" stroke-width="1.25"/>
<circle cx="195.9" cy="519.4" r="2.65" fill="none" stroke="#0000ff" stroke-width="1.25"/>
<circle cx="199.7" cy="520.4" r="2.65" fill="none" stroke="#0000ff" stroke-width="1.25"/>
<circle cx="194.0" cy="523.2" r="2.65" fill="none" stroke="#0000ff" stroke-width="1.25"/>
<circle cx="211.2" cy="527.0" r="2.65" fill="none" stroke="#0000ff" stroke-width="1.25"/>
<circle cx="202.6" cy="533.7" r="2.65" fill="none" stroke="#0000ff" stroke-width="1.25"/>
<circle cx="227.5" cy="529.9" r="2.65" fill="none" stroke="#0000ff" stroke-width="1.25"/>
<circle cx="174.9" cy="514.6" r="3.2" fill="#0000ff"/>
<circle cx="180.6" cy="515.6" r="3.2" fill="#0000ff"/>
<circle cx="183.5" cy="512.7" r="3.2" fill="#0000ff"/>
<circle cx="186.4" cy="518.4" r="3.2" fill="#0000ff"/>
<circle cx="188.3" cy="521.3" r="3.2" fill="#0000ff"/>
<circle cx="192.1" cy="521.3" r="3.2" fill="#0000ff"/>
<circle cx="196.9" cy="522.3" r="3.2" fill="#0000ff"/>
<circle cx="198.8" cy="524.2" r="3.2" fill="#0000ff"/>
<circle cx="181.6" cy="518.4" r="3.2" fill="#0000ff"/>
<circle cx="176.8" cy="517.5" r="3.2" fill="#0000ff"/>
<circle cx="190.0" cy="516.0" r="3.2" fill="#0000ff"/>
<circle cx="185.0" cy="521.0" r="3.2" fill="#0000ff"/>
<polygon points="165.3,520.3 168.1,525.1 162.5,525.1" fill="none" stroke="#ff0000" stroke-width="1.25" stroke-linejoin="miter"/>
<polygon points="167.2,525.1 170.0,529.9 164.4,529.9" fill="none" stroke="#ff0000" stroke-width="1.25" stroke-linejoin="miter"/>
<polygon points="183.5,520.3 186.3,525.1 180.7,525.1" fill="none" stroke="#ff0000" stroke-width="1.25" stroke-linejoin="miter"/>
<polygon points="204.5,520.3 207.3,525.1 201.7,525.1" fill="none" stroke="#ff0000" stroke-width="1.25" stroke-linejoin="miter"/>
<polygon points="210.3,519.4 213.1,524.2 207.5,524.2" fill="none" stroke="#ff0000" stroke-width="1.25" stroke-linejoin="miter"/>
<polygon points="218.9,526.1 221.7,530.9 216.1,530.9" fill="none" stroke="#ff0000" stroke-width="1.25" stroke-linejoin="miter"/>
<polygon points="223.7,527.0 226.5,531.8 220.9,531.8" fill="none" stroke="#ff0000" stroke-width="1.25" stroke-linejoin="miter"/>
<polygon points="230.4,525.1 233.2,529.9 227.6,529.9" fill="none" stroke="#ff0000" stroke-width="1.25" stroke-linejoin="miter"/>
<polygon points="237.0,525.1 239.8,529.9 234.2,529.9" fill="none" stroke="#ff0000" stroke-width="1.25" stroke-linejoin="miter"/>
<polygon points="243.7,525.1 246.5,529.9 240.9,529.9" fill="none" stroke="#ff0000" stroke-width="1.25" stroke-linejoin="miter"/>
<polygon points="246.6,524.1 249.4,528.9 243.8,528.9" fill="none" stroke="#ff0000" stroke-width="1.25" stroke-linejoin="miter"/>
<polygon points="256.2,525.1 259.0,529.9 253.4,529.9" fill="none" stroke="#ff0000" stroke-width="1.25" stroke-linejoin="miter"/>
<polygon points="239.0,518.4 241.8,523.2 236.2,523.2" fill="none" stroke="#ff0000" stroke-width="1.25" stroke-linejoin="miter"/>
<polygon points="221.7,519.3 225.4,525.7 218.0,525.7" fill="#ff0000"/>
<polygon points="227.5,518.4 231.2,524.8 223.8,524.8" fill="#ff0000"/>
<polygon points="234.2,517.4 237.9,523.8 230.5,523.8" fill="#ff0000"/>
<polygon points="237.0,518.4 240.7,524.8 233.3,524.8" fill="#ff0000"/>
<polygon points="217.0,523.1 220.7,529.5 213.3,529.5" fill="#ff0000"/>
<polygon points="224.6,520.3 228.3,526.7 220.9,526.7" fill="#ff0000"/>
<polygon points="230.4,520.3 234.1,526.7 226.7,526.7" fill="#ff0000"/>
<line x1="114.50" y1="477.90" x2="95.50" y2="494.80" stroke="#0000ff" stroke-width="1.3" />
<polygon points="92.5,497.5 94.2,491.5 98,495.8" fill="#0000ff"/>
<text x="83.0" y="512.0" font-size="12.5" text-anchor="start" font-weight="bold" font-style="normal" fill="#0000ff" >5 <tspan font-style="italic">m</tspan><tspan dy="2.5" font-size="62%" font-style="italic">e</tspan></text>
<line x1="173.90" y1="488.80" x2="198.80" y2="472.40" stroke="#ff0000" stroke-width="1.3" />
<polygon points="202,470.3 196.4,471.2 199.3,475.6" fill="#ff0000"/>
<text x="200.7" y="467.5" font-size="12.5" text-anchor="start" font-weight="bold" font-style="normal" fill="#ff0000" >12 <tspan font-style="italic">m</tspan><tspan dy="2.5" font-size="62%" font-style="italic">e</tspan></text>
<rect x="354.7" y="409.6" width="207.00000000000006" height="153.39999999999998" fill="none" stroke="#000" stroke-width="1.4"/>
<line x1="373.40" y1="563.00" x2="373.40" y2="560.40" stroke="#000" stroke-width="1.1" />
<line x1="411.10" y1="563.00" x2="411.10" y2="560.40" stroke="#000" stroke-width="1.1" />
<line x1="448.80" y1="563.00" x2="448.80" y2="560.40" stroke="#000" stroke-width="1.1" />
<line x1="486.50" y1="563.00" x2="486.50" y2="560.40" stroke="#000" stroke-width="1.1" />
<line x1="524.20" y1="563.00" x2="524.20" y2="560.40" stroke="#000" stroke-width="1.1" />
<line x1="561.90" y1="563.00" x2="561.90" y2="560.40" stroke="#000" stroke-width="1.1" />
<line x1="392.25" y1="563.00" x2="392.25" y2="561.40" stroke="#000" stroke-width="1.0" />
<line x1="429.95" y1="563.00" x2="429.95" y2="561.40" stroke="#000" stroke-width="1.0" />
<line x1="467.65" y1="563.00" x2="467.65" y2="561.40" stroke="#000" stroke-width="1.0" />
<line x1="505.35" y1="563.00" x2="505.35" y2="561.40" stroke="#000" stroke-width="1.0" />
<line x1="543.05" y1="563.00" x2="543.05" y2="561.40" stroke="#000" stroke-width="1.0" />
<line x1="354.70" y1="563.00" x2="357.30" y2="563.00" stroke="#000" stroke-width="1.1" />
<line x1="354.70" y1="524.69" x2="357.30" y2="524.69" stroke="#000" stroke-width="1.1" />
<line x1="354.70" y1="486.38" x2="357.30" y2="486.38" stroke="#000" stroke-width="1.1" />
<line x1="354.70" y1="448.07" x2="357.30" y2="448.07" stroke="#000" stroke-width="1.1" />
<line x1="354.70" y1="409.76" x2="357.30" y2="409.76" stroke="#000" stroke-width="1.1" />
<line x1="354.70" y1="543.85" x2="356.30" y2="543.85" stroke="#000" stroke-width="1.0" />
<line x1="354.70" y1="505.54" x2="356.30" y2="505.54" stroke="#000" stroke-width="1.0" />
<line x1="354.70" y1="467.23" x2="356.30" y2="467.23" stroke="#000" stroke-width="1.0" />
<line x1="354.70" y1="428.91" x2="356.30" y2="428.91" stroke="#000" stroke-width="1.0" />
<text x="373.4" y="575.0" font-size="10" text-anchor="middle" font-weight="bold" font-style="normal" fill="#000" >0</text>
<text x="411.1" y="575.0" font-size="10" text-anchor="middle" font-weight="bold" font-style="normal" fill="#000" >1000</text>
<text x="448.8" y="575.0" font-size="10" text-anchor="middle" font-weight="bold" font-style="normal" fill="#000" >2000</text>
<text x="486.5" y="575.0" font-size="10" text-anchor="middle" font-weight="bold" font-style="normal" fill="#000" >3000</text>
<text x="524.2" y="575.0" font-size="10" text-anchor="middle" font-weight="bold" font-style="normal" fill="#000" >4000</text>
<text x="561.9" y="575.0" font-size="10" text-anchor="middle" font-weight="bold" font-style="normal" fill="#000" >5000</text>
<text x="351.2" y="566.5" font-size="10" text-anchor="end" font-weight="bold" font-style="normal" fill="#000" >0</text>
<text x="351.2" y="528.2" font-size="10" text-anchor="end" font-weight="bold" font-style="normal" fill="#000" >3</text>
<text x="351.2" y="489.9" font-size="10" text-anchor="end" font-weight="bold" font-style="normal" fill="#000" >6</text>
<text x="351.2" y="451.6" font-size="10" text-anchor="end" font-weight="bold" font-style="normal" fill="#000" >9</text>
<text x="351.2" y="413.3" font-size="10" text-anchor="end" font-weight="bold" font-style="normal" fill="#000" >12</text>
<text x="297.5" y="423.2" font-size="24" text-anchor="start" font-weight="bold" font-style="normal" fill="#000" >(f)</text>
<text x="0" y="0" font-size="14" font-weight="bold" text-anchor="middle" transform="translate(337.6,485.3) rotate(-90)"><tspan font-style="italic">κ</tspan> (Wm<tspan dy="-6" font-size="62%">-1</tspan><tspan dy="6">K</tspan><tspan dy="-6" font-size="62%">-1</tspan><tspan dy="6">)</tspan></text>
<text x="436.5" y="590.7" font-size="13.5" text-anchor="start" font-weight="bold" font-style="normal" fill="#000" ><tspan font-style="italic">σ</tspan> (Scm<tspan dy="-6" font-size="62%">-1</tspan><tspan dy="6">)</tspan></text>
<text x="508.3" y="548.4" font-size="16.5" text-anchor="start" font-weight="bold" font-style="normal" fill="#000" >300 K</text>
<circle cx="376.0" cy="431.3" r="2.65" fill="none" stroke="#0000ff" stroke-width="1.25"/>
<circle cx="383.5" cy="441.6" r="2.65" fill="none" stroke="#0000ff" stroke-width="1.25"/>
<circle cx="374.4" cy="456.3" r="2.65" fill="none" stroke="#0000ff" stroke-width="1.25"/>
<circle cx="390.5" cy="465.9" r="2.65" fill="none" stroke="#0000ff" stroke-width="1.25"/>
<circle cx="397.9" cy="473.7" r="2.65" fill="none" stroke="#0000ff" stroke-width="1.25"/>
<circle cx="406.0" cy="474.5" r="2.65" fill="none" stroke="#0000ff" stroke-width="1.25"/>
<circle cx="421.3" cy="475.6" r="2.65" fill="none" stroke="#0000ff" stroke-width="1.25"/>
<circle cx="435.4" cy="477.6" r="2.65" fill="none" stroke="#0000ff" stroke-width="1.25"/>
<circle cx="412.3" cy="481.4" r="2.65" fill="none" stroke="#0000ff" stroke-width="1.25"/>
<circle cx="407.6" cy="484.5" r="2.65" fill="none" stroke="#0000ff" stroke-width="1.25"/>
<circle cx="407.6" cy="491.2" r="2.65" fill="none" stroke="#0000ff" stroke-width="1.25"/>
<circle cx="384.6" cy="484.2" r="2.65" fill="none" stroke="#0000ff" stroke-width="1.25"/>
<circle cx="420.6" cy="490.7" r="2.65" fill="none" stroke="#0000ff" stroke-width="1.25"/>
<circle cx="423.7" cy="490.7" r="2.65" fill="none" stroke="#0000ff" stroke-width="1.25"/>
<circle cx="424.8" cy="494.3" r="2.65" fill="none" stroke="#0000ff" stroke-width="1.25"/>
<circle cx="377.5" cy="495.9" r="2.65" fill="none" stroke="#0000ff" stroke-width="1.25"/>
<circle cx="383.5" cy="495.1" r="2.65" fill="none" stroke="#0000ff" stroke-width="1.25"/>
<circle cx="388.5" cy="493.6" r="2.65" fill="none" stroke="#0000ff" stroke-width="1.25"/>
<circle cx="392.4" cy="497.5" r="2.65" fill="none" stroke="#0000ff" stroke-width="1.25"/>
<circle cx="394.0" cy="498.3" r="2.65" fill="none" stroke="#0000ff" stroke-width="1.25"/>
<circle cx="386.9" cy="501.4" r="2.65" fill="none" stroke="#0000ff" stroke-width="1.25"/>
<circle cx="394.0" cy="505.8" r="2.65" fill="none" stroke="#0000ff" stroke-width="1.25"/>
<circle cx="436.2" cy="500.6" r="2.65" fill="none" stroke="#0000ff" stroke-width="1.25"/>
<circle cx="440.9" cy="496.7" r="2.65" fill="none" stroke="#0000ff" stroke-width="1.25"/>
<circle cx="452.7" cy="487.6" r="2.65" fill="none" stroke="#0000ff" stroke-width="1.25"/>
<circle cx="376.0" cy="509.2" r="2.65" fill="none" stroke="#0000ff" stroke-width="1.25"/>
<circle cx="415.1" cy="510.0" r="2.65" fill="none" stroke="#0000ff" stroke-width="1.25"/>
<circle cx="424.5" cy="508.9" r="2.65" fill="none" stroke="#0000ff" stroke-width="1.25"/>
<circle cx="430.7" cy="508.9" r="2.65" fill="none" stroke="#0000ff" stroke-width="1.25"/>
<circle cx="376.7" cy="510.3" r="2.65" fill="none" stroke="#0000ff" stroke-width="1.25"/>
<circle cx="393.2" cy="510.7" r="2.65" fill="none" stroke="#0000ff" stroke-width="1.25"/>
<circle cx="390.0" cy="515.3" r="2.65" fill="none" stroke="#0000ff" stroke-width="1.25"/>
<circle cx="395.5" cy="515.3" r="2.65" fill="none" stroke="#0000ff" stroke-width="1.25"/>
<circle cx="377.5" cy="517.7" r="2.65" fill="none" stroke="#0000ff" stroke-width="1.25"/>
<circle cx="382.2" cy="519.3" r="2.65" fill="none" stroke="#0000ff" stroke-width="1.25"/>
<circle cx="376.0" cy="520.8" r="2.65" fill="none" stroke="#0000ff" stroke-width="1.25"/>
<circle cx="385.3" cy="522.9" r="2.65" fill="none" stroke="#0000ff" stroke-width="1.25"/>
<circle cx="390.0" cy="520.0" r="2.65" fill="none" stroke="#0000ff" stroke-width="1.25"/>
<circle cx="396.3" cy="520.8" r="2.65" fill="none" stroke="#0000ff" stroke-width="1.25"/>
<circle cx="376.7" cy="529.7" r="2.65" fill="none" stroke="#0000ff" stroke-width="1.25"/>
<circle cx="378.3" cy="534.9" r="2.65" fill="none" stroke="#0000ff" stroke-width="1.25"/>
<circle cx="402.6" cy="528.2" r="2.65" fill="none" stroke="#0000ff" stroke-width="1.25"/>
<circle cx="405.7" cy="515.0" r="2.65" fill="none" stroke="#0000ff" stroke-width="1.25"/>
<circle cx="412.0" cy="511.9" r="2.65" fill="none" stroke="#0000ff" stroke-width="1.25"/>
<circle cx="410.4" cy="519.7" r="2.65" fill="none" stroke="#0000ff" stroke-width="1.25"/>
<circle cx="412.7" cy="524.0" r="2.65" fill="none" stroke="#0000ff" stroke-width="1.25"/>
<circle cx="417.4" cy="524.0" r="2.65" fill="none" stroke="#0000ff" stroke-width="1.25"/>
<circle cx="435.4" cy="510.7" r="2.65" fill="none" stroke="#0000ff" stroke-width="1.25"/>
<circle cx="425.3" cy="527.1" r="2.65" fill="none" stroke="#0000ff" stroke-width="1.25"/>
<circle cx="430.0" cy="524.0" r="2.65" fill="none" stroke="#0000ff" stroke-width="1.25"/>
<circle cx="437.0" cy="500.5" r="2.65" fill="none" stroke="#0000ff" stroke-width="1.25"/>
<circle cx="386.9" cy="501.6" r="2.65" fill="none" stroke="#0000ff" stroke-width="1.25"/>
<circle cx="454.0" cy="487.4" r="2.65" fill="none" stroke="#0000ff" stroke-width="1.25"/>
<circle cx="466.7" cy="484.4" r="2.65" fill="none" stroke="#0000ff" stroke-width="1.25"/>
<circle cx="473.7" cy="482.5" r="2.65" fill="none" stroke="#0000ff" stroke-width="1.25"/>
<circle cx="476.7" cy="483.9" r="2.65" fill="none" stroke="#0000ff" stroke-width="1.25"/>
<circle cx="478.0" cy="493.1" r="2.65" fill="none" stroke="#0000ff" stroke-width="1.25"/>
<circle cx="476.0" cy="498.3" r="2.65" fill="none" stroke="#0000ff" stroke-width="1.25"/>
<circle cx="495.4" cy="494.0" r="2.65" fill="none" stroke="#0000ff" stroke-width="1.25"/>
<circle cx="521.5" cy="501.8" r="2.65" fill="none" stroke="#0000ff" stroke-width="1.25"/>
<circle cx="530.2" cy="505.7" r="2.65" fill="none" stroke="#0000ff" stroke-width="1.25"/>
<circle cx="532.8" cy="493.8" r="2.65" fill="none" stroke="#0000ff" stroke-width="1.25"/>
<circle cx="490.2" cy="509.1" r="2.65" fill="none" stroke="#0000ff" stroke-width="1.25"/>
<circle cx="455.4" cy="515.6" r="2.65" fill="none" stroke="#0000ff" stroke-width="1.25"/>
<circle cx="454.6" cy="519.0" r="2.65" fill="none" stroke="#0000ff" stroke-width="1.25"/>
<circle cx="447.6" cy="523.9" r="2.65" fill="none" stroke="#0000ff" stroke-width="1.25"/>
<circle cx="453.7" cy="525.3" r="2.65" fill="none" stroke="#0000ff" stroke-width="1.25"/>
<circle cx="461.5" cy="525.7" r="2.65" fill="none" stroke="#0000ff" stroke-width="1.25"/>
<circle cx="469.3" cy="525.3" r="2.65" fill="none" stroke="#0000ff" stroke-width="1.25"/>
<circle cx="440.9" cy="507.6" r="3.2" fill="#0000ff"/>
<circle cx="427.6" cy="519.3" r="3.2" fill="#0000ff"/>
<circle cx="432.3" cy="520.8" r="3.2" fill="#0000ff"/>
<circle cx="436.2" cy="524.0" r="3.2" fill="#0000ff"/>
<circle cx="440.1" cy="521.6" r="3.2" fill="#0000ff"/>
<circle cx="442.5" cy="525.5" r="3.2" fill="#0000ff"/>
<circle cx="435.4" cy="528.7" r="3.2" fill="#0000ff"/>
<circle cx="437.8" cy="532.6" r="3.2" fill="#0000ff"/>
<circle cx="415.1" cy="527.1" r="3.2" fill="#0000ff"/>
<circle cx="416.7" cy="542.0" r="3.2" fill="#0000ff"/>
<circle cx="452.7" cy="532.6" r="3.2" fill="#0000ff"/>
<circle cx="486.7" cy="523.6" r="3.2" fill="#0000ff"/>
<circle cx="489.3" cy="524.8" r="3.2" fill="#0000ff"/>
<circle cx="500.7" cy="525.3" r="3.2" fill="#0000ff"/>
<circle cx="452.8" cy="531.7" r="3.2" fill="#0000ff"/>
<polygon points="394.0,534.4 396.8,539.2 391.2,539.2" fill="none" stroke="#ff0000" stroke-width="1.25" stroke-linejoin="miter"/>
<polygon points="397.1,539.1 399.9,543.9 394.3,543.9" fill="none" stroke="#ff0000" stroke-width="1.25" stroke-linejoin="miter"/>
<polygon points="402.6,531.2 405.4,536.0 399.8,536.0" fill="none" stroke="#ff0000" stroke-width="1.25" stroke-linejoin="miter"/>
<polygon points="402.6,536.7 405.4,541.5 399.8,541.5" fill="none" stroke="#ff0000" stroke-width="1.25" stroke-linejoin="miter"/>
<polygon points="408.8,533.6 411.6,538.4 406.0,538.4" fill="none" stroke="#ff0000" stroke-width="1.25" stroke-linejoin="miter"/>
<polygon points="415.1,533.6 417.9,538.4 412.3,538.4" fill="none" stroke="#ff0000" stroke-width="1.25" stroke-linejoin="miter"/>
<polygon points="429.2,528.9 432.0,533.7 426.4,533.7" fill="none" stroke="#ff0000" stroke-width="1.25" stroke-linejoin="miter"/>
<polygon points="448.0,527.3 450.8,532.1 445.2,532.1" fill="none" stroke="#ff0000" stroke-width="1.25" stroke-linejoin="miter"/>
<polygon points="449.5,513.2 452.3,518.0 446.7,518.0" fill="none" stroke="#ff0000" stroke-width="1.25" stroke-linejoin="miter"/>
<polygon points="448.5,513.2 451.3,518.0 445.7,518.0" fill="none" stroke="#ff0000" stroke-width="1.25" stroke-linejoin="miter"/>
<polygon points="489.9,508.0 492.7,512.8 487.1,512.8" fill="none" stroke="#ff0000" stroke-width="1.25" stroke-linejoin="miter"/>
<polygon points="499.8,507.4 502.6,512.2 497.0,512.2" fill="none" stroke="#ff0000" stroke-width="1.25" stroke-linejoin="miter"/>
<polygon points="485.0,513.7 487.8,518.5 482.2,518.5" fill="none" stroke="#ff0000" stroke-width="1.25" stroke-linejoin="miter"/>
<polygon points="491.6,514.4 494.4,519.2 488.8,519.2" fill="none" stroke="#ff0000" stroke-width="1.25" stroke-linejoin="miter"/>
<polygon points="489.3,511.4 492.1,516.2 486.5,516.2" fill="none" stroke="#ff0000" stroke-width="1.25" stroke-linejoin="miter"/>
<polygon points="500.3,518.4 503.1,523.2 497.5,523.2" fill="none" stroke="#ff0000" stroke-width="1.25" stroke-linejoin="miter"/>
<polygon points="465.9,519.8 468.7,524.6 463.1,524.6" fill="none" stroke="#ff0000" stroke-width="1.25" stroke-linejoin="miter"/>
<polygon points="467.6,521.0 470.4,525.8 464.8,525.8" fill="none" stroke="#ff0000" stroke-width="1.25" stroke-linejoin="miter"/>
<polygon points="457.2,526.2 460.0,531.0 454.4,531.0" fill="none" stroke="#ff0000" stroke-width="1.25" stroke-linejoin="miter"/>
<polygon points="462.4,528.3 465.2,533.1 459.6,533.1" fill="none" stroke="#ff0000" stroke-width="1.25" stroke-linejoin="miter"/>
<polygon points="447.6,527.6 450.4,532.4 444.8,532.4" fill="none" stroke="#ff0000" stroke-width="1.25" stroke-linejoin="miter"/>
<polygon points="464.1,525.4 466.9,530.2 461.3,530.2" fill="none" stroke="#ff0000" stroke-width="1.25" stroke-linejoin="miter"/>
<polygon points="422.9,534.1 426.6,540.5 419.2,540.5" fill="#ff0000"/>
<polygon points="424.5,536.5 428.2,542.9 420.8,542.9" fill="#ff0000"/>
<polygon points="422.1,538.1 425.8,544.5 418.4,544.5" fill="#ff0000"/>
<polygon points="470.7,533.9 474.4,540.3 467.0,540.3" fill="#ff0000"/>
<polygon points="478.0,530.4 481.7,536.8 474.3,536.8" fill="#ff0000"/>
<circle cx="439.0" cy="422.6" r="2.2" fill="none" stroke="#0000ff" stroke-width="1.25"/>
<circle cx="439.0" cy="436.5" r="3.0" fill="#0000ff"/>
<polygon points="439.0,448.2 441.7,452.8 436.3,452.8" fill="none" stroke="#ff0000" stroke-width="1.25" stroke-linejoin="miter"/>
<polygon points="439.0,461.0 442.7,467.4 435.3,467.4" fill="#ff0000"/>
<text x="452.0" y="424.0" font-size="10.9" text-anchor="start" font-weight="bold" font-style="normal" fill="#000" ><tspan font-style="italic">n</tspan>-type (single filled)</text>
<text x="452.0" y="437.7" font-size="10.9" text-anchor="start" font-weight="bold" font-style="normal" fill="#000" ><tspan font-style="italic">n</tspan>-type (multiple filled)</text>
<text x="451.3" y="452.2" font-size="10.9" text-anchor="start" font-weight="bold" font-style="normal" fill="#000" ><tspan font-style="italic">p</tspan>-type (single filled)</text>
<text x="451.3" y="465.9" font-size="10.9" text-anchor="start" font-weight="bold" font-style="normal" fill="#000" ><tspan font-style="italic">p</tspan>-type (multiple filled)</text>
</svg></body></html>
